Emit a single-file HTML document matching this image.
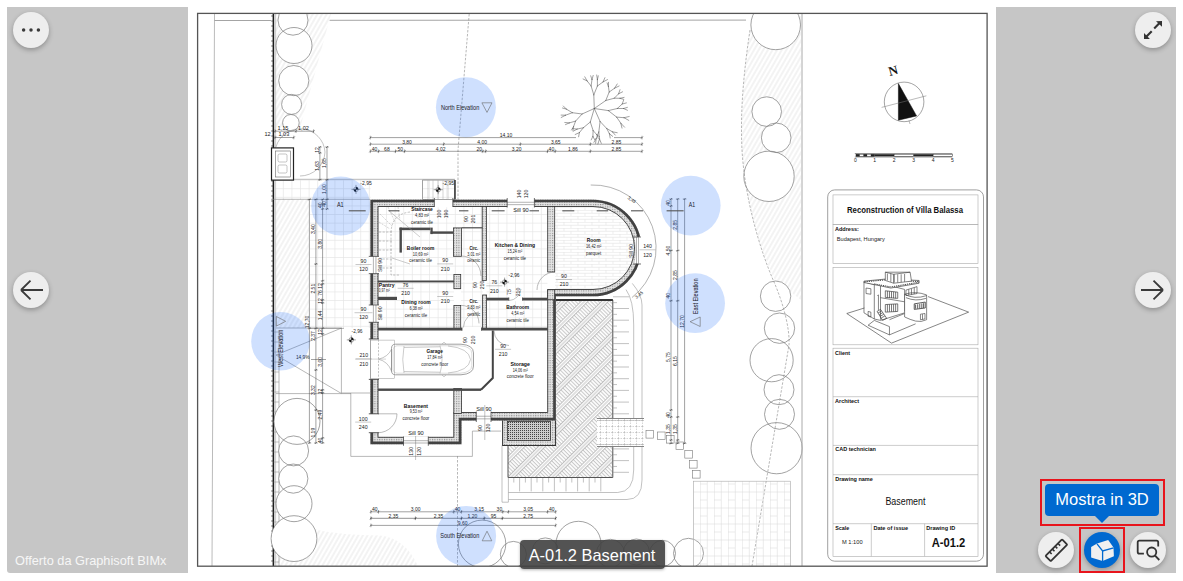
<!DOCTYPE html>
<html><head><meta charset="utf-8"><title>A-01.2 Basement</title>
<style>
html,body{margin:0;padding:0;background:#fff;width:1183px;height:581px;overflow:hidden;font-family:"Liberation Sans",sans-serif;}
#stage{position:relative;width:1183px;height:581px;}
svg.plan{position:absolute;left:0;top:0;}
svg.plan text{font-family:"Liberation Sans",sans-serif;}
.panel{position:absolute;top:7px;height:566px;background:#c6c6c6;}
.btn{position:absolute;width:36px;height:36px;border-radius:50%;background:#eeeeee;box-shadow:0 2px 5px rgba(0,0,0,0.28);}
.btn svg{position:absolute;left:0;top:0;}
.credit{position:absolute;left:15px;top:552.5px;color:#f6f6f6;font-size:12.75px;white-space:nowrap;}
.label{position:absolute;left:519.5px;top:540px;width:145px;height:28.5px;border-radius:4px;background:rgba(64,64,64,0.9);color:#fff;font-size:16.4px;line-height:30px;text-align:center;box-shadow:0 1px 3px rgba(0,0,0,0.3);}
.tip{position:absolute;left:1045px;top:484px;width:114px;height:32px;border-radius:4px;background:#0069d0;color:#fff;font-size:16.5px;line-height:31px;text-align:center;}
.tip:after{content:"";position:absolute;left:50px;top:32px;border-left:7px solid transparent;border-right:7px solid transparent;border-top:7px solid #0069d0;}
.red{position:absolute;border:2.4px solid #e8141c;box-sizing:border-box;}
</style></head><body><div id="stage">
<div class="panel" style="left:7px;width:181px;border-radius:0 0 0 3px"></div>
<div class="panel" style="left:996px;width:180px"></div>
<svg class="plan" width="1183" height="581" viewBox="0 0 1183 581">
<defs>
<clipPath id="frm"><rect x="198" y="14" width="789" height="552"/></clipPath>
<pattern id="stip" width="2.4" height="2.4" patternUnits="userSpaceOnUse"><rect width="2.4" height="2.4" fill="#e4e4e4"/><rect width="1.1" height="1.1" fill="#8a8a8a"/></pattern>
<pattern id="lhatch" width="4" height="3.6" patternUnits="userSpaceOnUse" patternTransform="rotate(30)"><line x1="2" y1="0" x2="2" y2="3.6" stroke="#d9d9d9" stroke-width="0.6"/></pattern>
<pattern id="deck" width="14.5" height="2.7" patternUnits="userSpaceOnUse" patternTransform="rotate(45)"><path d="M0.5 0V2.7M2.9 0V2.7M5.3 0V2.7" stroke="#999" stroke-width="0.6"/><line x1="5.3" y1="0.6" x2="14.5" y2="0.6" stroke="#9a9a9a" stroke-width="0.6"/></pattern>
<pattern id="xst" width="2" height="2" patternUnits="userSpaceOnUse"><rect width="2" height="2" fill="#ccc"/><rect width="1" height="1" fill="#444"/></pattern>
<pattern id="grid" width="8.6" height="8.6" patternUnits="userSpaceOnUse"><path d="M8.2 0V8.6M0 8.2H8.6" fill="none" stroke="#e3e3e3" stroke-width="0.7"/></pattern>
<pattern id="brick" width="14" height="6" patternUnits="userSpaceOnUse"><path d="M0 0.3H14M0 3.3H14M4 0V3.3M11 3.3V6" fill="none" stroke="#e2e2e2" stroke-width="0.6"/></pattern>
<pattern id="pave" width="14" height="16" patternUnits="userSpaceOnUse"><path d="M0.3 0V16M7.3 0V16M0 4H7M7 12H14M0 12H7" fill="none" stroke="#dddddd" stroke-width="0.6"/></pattern>
<pattern id="dgrid" width="6" height="6" patternUnits="userSpaceOnUse"><path d="M0 0.3H6M0.3 0V6" fill="none" stroke="#999" stroke-width="0.5" stroke-dasharray="1.5 1"/></pattern>
</defs>
<rect x="197.5" y="13.5" width="789.5" height="552.5" fill="#fff"/>
<g clip-path="url(#frm)">
<line x1="214.5" y1="14" x2="212" y2="566" stroke="#bbb" stroke-width="1" />
<line x1="214.5" y1="20.5" x2="271" y2="20.5" stroke="#9a9a9a" stroke-width="0.9" />
<line x1="329.6" y1="20.3" x2="746" y2="20.1" stroke="#9a9a9a" stroke-width="0.9" />
<path d="M275.6 14 L331 14 L300 128 L275.6 128 Z" fill="url(#lhatch)" stroke="none" stroke-width="0.8" />
<path d="M276 199.4 L309 199.4 L309 328 L276 328 Z" fill="url(#lhatch)" stroke="none" stroke-width="0.8" />
<path d="M752 16 L801 16 L801 300 L775 280 C760 250 745 200 742 150 C741 100 745 60 752 16 Z" fill="url(#lhatch)" stroke="none" stroke-width="0.8" />
<path d="M276 566 V520 Q300 524 318 530 Q340 535 380 535.5 Q405 538 418 566 Z" fill="url(#lhatch)" stroke="none" stroke-width="0.8" />
<rect x="275.6" y="180" width="95" height="20" fill="url(#grid)" stroke="none" stroke-width="1" />
<rect x="310" y="200" width="60" height="128" fill="url(#grid)" stroke="none" stroke-width="1" />
<line x1="273.4" y1="14" x2="273.4" y2="566" stroke="#1a1a1a" stroke-width="1.6" />
<line x1="275.6" y1="14" x2="275.6" y2="566" stroke="#aaa" stroke-width="0.6" />
<line x1="271.2" y1="16" x2="273.4" y2="16" stroke="#333" stroke-width="0.7" />
<line x1="271.2" y1="21" x2="273.4" y2="21" stroke="#333" stroke-width="0.7" />
<line x1="271.2" y1="26" x2="273.4" y2="26" stroke="#333" stroke-width="0.7" />
<line x1="271.2" y1="31" x2="273.4" y2="31" stroke="#333" stroke-width="0.7" />
<line x1="271.2" y1="36" x2="273.4" y2="36" stroke="#333" stroke-width="0.7" />
<line x1="271.2" y1="41" x2="273.4" y2="41" stroke="#333" stroke-width="0.7" />
<line x1="271.2" y1="46" x2="273.4" y2="46" stroke="#333" stroke-width="0.7" />
<line x1="271.2" y1="51" x2="273.4" y2="51" stroke="#333" stroke-width="0.7" />
<line x1="271.2" y1="56" x2="273.4" y2="56" stroke="#333" stroke-width="0.7" />
<line x1="271.2" y1="61" x2="273.4" y2="61" stroke="#333" stroke-width="0.7" />
<line x1="271.2" y1="66" x2="273.4" y2="66" stroke="#333" stroke-width="0.7" />
<line x1="271.2" y1="71" x2="273.4" y2="71" stroke="#333" stroke-width="0.7" />
<line x1="271.2" y1="76" x2="273.4" y2="76" stroke="#333" stroke-width="0.7" />
<line x1="271.2" y1="81" x2="273.4" y2="81" stroke="#333" stroke-width="0.7" />
<line x1="271.2" y1="86" x2="273.4" y2="86" stroke="#333" stroke-width="0.7" />
<line x1="271.2" y1="91" x2="273.4" y2="91" stroke="#333" stroke-width="0.7" />
<line x1="271.2" y1="96" x2="273.4" y2="96" stroke="#333" stroke-width="0.7" />
<line x1="271.2" y1="101" x2="273.4" y2="101" stroke="#333" stroke-width="0.7" />
<line x1="271.2" y1="106" x2="273.4" y2="106" stroke="#333" stroke-width="0.7" />
<line x1="271.2" y1="111" x2="273.4" y2="111" stroke="#333" stroke-width="0.7" />
<line x1="271.2" y1="116" x2="273.4" y2="116" stroke="#333" stroke-width="0.7" />
<line x1="271.2" y1="121" x2="273.4" y2="121" stroke="#333" stroke-width="0.7" />
<line x1="271.2" y1="126" x2="273.4" y2="126" stroke="#333" stroke-width="0.7" />
<line x1="271.2" y1="131" x2="273.4" y2="131" stroke="#333" stroke-width="0.7" />
<line x1="271.2" y1="136" x2="273.4" y2="136" stroke="#333" stroke-width="0.7" />
<line x1="271.2" y1="141" x2="273.4" y2="141" stroke="#333" stroke-width="0.7" />
<line x1="271.2" y1="146" x2="273.4" y2="146" stroke="#333" stroke-width="0.7" />
<line x1="271.2" y1="151" x2="273.4" y2="151" stroke="#333" stroke-width="0.7" />
<line x1="271.2" y1="156" x2="273.4" y2="156" stroke="#333" stroke-width="0.7" />
<line x1="271.2" y1="161" x2="273.4" y2="161" stroke="#333" stroke-width="0.7" />
<line x1="271.2" y1="166" x2="273.4" y2="166" stroke="#333" stroke-width="0.7" />
<line x1="271.2" y1="171" x2="273.4" y2="171" stroke="#333" stroke-width="0.7" />
<line x1="271.2" y1="176" x2="273.4" y2="176" stroke="#333" stroke-width="0.7" />
<line x1="271.2" y1="181" x2="273.4" y2="181" stroke="#333" stroke-width="0.7" />
<line x1="271.2" y1="186" x2="273.4" y2="186" stroke="#333" stroke-width="0.7" />
<line x1="271.2" y1="191" x2="273.4" y2="191" stroke="#333" stroke-width="0.7" />
<line x1="271.2" y1="196" x2="273.4" y2="196" stroke="#333" stroke-width="0.7" />
<line x1="271.2" y1="201" x2="273.4" y2="201" stroke="#333" stroke-width="0.7" />
<line x1="271.2" y1="206" x2="273.4" y2="206" stroke="#333" stroke-width="0.7" />
<line x1="271.2" y1="211" x2="273.4" y2="211" stroke="#333" stroke-width="0.7" />
<line x1="271.2" y1="216" x2="273.4" y2="216" stroke="#333" stroke-width="0.7" />
<line x1="271.2" y1="221" x2="273.4" y2="221" stroke="#333" stroke-width="0.7" />
<line x1="271.2" y1="226" x2="273.4" y2="226" stroke="#333" stroke-width="0.7" />
<line x1="271.2" y1="231" x2="273.4" y2="231" stroke="#333" stroke-width="0.7" />
<line x1="271.2" y1="236" x2="273.4" y2="236" stroke="#333" stroke-width="0.7" />
<line x1="271.2" y1="241" x2="273.4" y2="241" stroke="#333" stroke-width="0.7" />
<line x1="271.2" y1="246" x2="273.4" y2="246" stroke="#333" stroke-width="0.7" />
<line x1="271.2" y1="251" x2="273.4" y2="251" stroke="#333" stroke-width="0.7" />
<line x1="271.2" y1="256" x2="273.4" y2="256" stroke="#333" stroke-width="0.7" />
<line x1="271.2" y1="261" x2="273.4" y2="261" stroke="#333" stroke-width="0.7" />
<line x1="271.2" y1="266" x2="273.4" y2="266" stroke="#333" stroke-width="0.7" />
<line x1="271.2" y1="271" x2="273.4" y2="271" stroke="#333" stroke-width="0.7" />
<line x1="271.2" y1="276" x2="273.4" y2="276" stroke="#333" stroke-width="0.7" />
<line x1="271.2" y1="281" x2="273.4" y2="281" stroke="#333" stroke-width="0.7" />
<line x1="271.2" y1="286" x2="273.4" y2="286" stroke="#333" stroke-width="0.7" />
<line x1="271.2" y1="291" x2="273.4" y2="291" stroke="#333" stroke-width="0.7" />
<line x1="271.2" y1="296" x2="273.4" y2="296" stroke="#333" stroke-width="0.7" />
<line x1="271.2" y1="301" x2="273.4" y2="301" stroke="#333" stroke-width="0.7" />
<line x1="271.2" y1="306" x2="273.4" y2="306" stroke="#333" stroke-width="0.7" />
<line x1="271.2" y1="311" x2="273.4" y2="311" stroke="#333" stroke-width="0.7" />
<line x1="271.2" y1="316" x2="273.4" y2="316" stroke="#333" stroke-width="0.7" />
<line x1="271.2" y1="321" x2="273.4" y2="321" stroke="#333" stroke-width="0.7" />
<line x1="271.2" y1="326" x2="273.4" y2="326" stroke="#333" stroke-width="0.7" />
<line x1="271.2" y1="331" x2="273.4" y2="331" stroke="#333" stroke-width="0.7" />
<line x1="271.2" y1="336" x2="273.4" y2="336" stroke="#333" stroke-width="0.7" />
<line x1="271.2" y1="341" x2="273.4" y2="341" stroke="#333" stroke-width="0.7" />
<line x1="271.2" y1="346" x2="273.4" y2="346" stroke="#333" stroke-width="0.7" />
<line x1="271.2" y1="351" x2="273.4" y2="351" stroke="#333" stroke-width="0.7" />
<line x1="271.2" y1="356" x2="273.4" y2="356" stroke="#333" stroke-width="0.7" />
<line x1="271.2" y1="361" x2="273.4" y2="361" stroke="#333" stroke-width="0.7" />
<line x1="271.2" y1="366" x2="273.4" y2="366" stroke="#333" stroke-width="0.7" />
<line x1="271.2" y1="371" x2="273.4" y2="371" stroke="#333" stroke-width="0.7" />
<line x1="271.2" y1="376" x2="273.4" y2="376" stroke="#333" stroke-width="0.7" />
<line x1="271.2" y1="381" x2="273.4" y2="381" stroke="#333" stroke-width="0.7" />
<line x1="271.2" y1="386" x2="273.4" y2="386" stroke="#333" stroke-width="0.7" />
<line x1="271.2" y1="391" x2="273.4" y2="391" stroke="#333" stroke-width="0.7" />
<line x1="271.2" y1="396" x2="273.4" y2="396" stroke="#333" stroke-width="0.7" />
<line x1="271.2" y1="401" x2="273.4" y2="401" stroke="#333" stroke-width="0.7" />
<line x1="271.2" y1="406" x2="273.4" y2="406" stroke="#333" stroke-width="0.7" />
<line x1="271.2" y1="411" x2="273.4" y2="411" stroke="#333" stroke-width="0.7" />
<line x1="271.2" y1="416" x2="273.4" y2="416" stroke="#333" stroke-width="0.7" />
<line x1="271.2" y1="421" x2="273.4" y2="421" stroke="#333" stroke-width="0.7" />
<line x1="271.2" y1="426" x2="273.4" y2="426" stroke="#333" stroke-width="0.7" />
<line x1="271.2" y1="431" x2="273.4" y2="431" stroke="#333" stroke-width="0.7" />
<line x1="271.2" y1="436" x2="273.4" y2="436" stroke="#333" stroke-width="0.7" />
<line x1="271.2" y1="441" x2="273.4" y2="441" stroke="#333" stroke-width="0.7" />
<line x1="271.2" y1="446" x2="273.4" y2="446" stroke="#333" stroke-width="0.7" />
<line x1="271.2" y1="451" x2="273.4" y2="451" stroke="#333" stroke-width="0.7" />
<line x1="271.2" y1="456" x2="273.4" y2="456" stroke="#333" stroke-width="0.7" />
<line x1="271.2" y1="461" x2="273.4" y2="461" stroke="#333" stroke-width="0.7" />
<line x1="271.2" y1="466" x2="273.4" y2="466" stroke="#333" stroke-width="0.7" />
<line x1="271.2" y1="471" x2="273.4" y2="471" stroke="#333" stroke-width="0.7" />
<line x1="271.2" y1="476" x2="273.4" y2="476" stroke="#333" stroke-width="0.7" />
<line x1="271.2" y1="481" x2="273.4" y2="481" stroke="#333" stroke-width="0.7" />
<line x1="271.2" y1="486" x2="273.4" y2="486" stroke="#333" stroke-width="0.7" />
<line x1="271.2" y1="491" x2="273.4" y2="491" stroke="#333" stroke-width="0.7" />
<line x1="271.2" y1="496" x2="273.4" y2="496" stroke="#333" stroke-width="0.7" />
<line x1="271.2" y1="501" x2="273.4" y2="501" stroke="#333" stroke-width="0.7" />
<line x1="271.2" y1="506" x2="273.4" y2="506" stroke="#333" stroke-width="0.7" />
<line x1="271.2" y1="511" x2="273.4" y2="511" stroke="#333" stroke-width="0.7" />
<line x1="271.2" y1="516" x2="273.4" y2="516" stroke="#333" stroke-width="0.7" />
<line x1="271.2" y1="521" x2="273.4" y2="521" stroke="#333" stroke-width="0.7" />
<line x1="271.2" y1="526" x2="273.4" y2="526" stroke="#333" stroke-width="0.7" />
<line x1="271.2" y1="531" x2="273.4" y2="531" stroke="#333" stroke-width="0.7" />
<line x1="271.2" y1="536" x2="273.4" y2="536" stroke="#333" stroke-width="0.7" />
<line x1="271.2" y1="541" x2="273.4" y2="541" stroke="#333" stroke-width="0.7" />
<line x1="271.2" y1="546" x2="273.4" y2="546" stroke="#333" stroke-width="0.7" />
<line x1="271.2" y1="551" x2="273.4" y2="551" stroke="#333" stroke-width="0.7" />
<line x1="271.2" y1="556" x2="273.4" y2="556" stroke="#333" stroke-width="0.7" />
<line x1="271.2" y1="561" x2="273.4" y2="561" stroke="#333" stroke-width="0.7" />
<line x1="279" y1="330" x2="279" y2="566" stroke="#888" stroke-width="0.6" />
<line x1="273.4" y1="332" x2="279" y2="332" stroke="#888" stroke-width="0.5" />
<line x1="273.4" y1="342" x2="279" y2="342" stroke="#888" stroke-width="0.5" />
<line x1="273.4" y1="352" x2="279" y2="352" stroke="#888" stroke-width="0.5" />
<line x1="273.4" y1="362" x2="279" y2="362" stroke="#888" stroke-width="0.5" />
<line x1="273.4" y1="372" x2="279" y2="372" stroke="#888" stroke-width="0.5" />
<line x1="273.4" y1="382" x2="279" y2="382" stroke="#888" stroke-width="0.5" />
<line x1="273.4" y1="392" x2="279" y2="392" stroke="#888" stroke-width="0.5" />
<line x1="273.4" y1="402" x2="279" y2="402" stroke="#888" stroke-width="0.5" />
<line x1="273.4" y1="412" x2="279" y2="412" stroke="#888" stroke-width="0.5" />
<line x1="273.4" y1="422" x2="279" y2="422" stroke="#888" stroke-width="0.5" />
<line x1="273.4" y1="432" x2="279" y2="432" stroke="#888" stroke-width="0.5" />
<line x1="273.4" y1="442" x2="279" y2="442" stroke="#888" stroke-width="0.5" />
<line x1="273.4" y1="452" x2="279" y2="452" stroke="#888" stroke-width="0.5" />
<line x1="273.4" y1="462" x2="279" y2="462" stroke="#888" stroke-width="0.5" />
<line x1="273.4" y1="472" x2="279" y2="472" stroke="#888" stroke-width="0.5" />
<line x1="273.4" y1="482" x2="279" y2="482" stroke="#888" stroke-width="0.5" />
<line x1="273.4" y1="492" x2="279" y2="492" stroke="#888" stroke-width="0.5" />
<line x1="273.4" y1="502" x2="279" y2="502" stroke="#888" stroke-width="0.5" />
<line x1="273.4" y1="512" x2="279" y2="512" stroke="#888" stroke-width="0.5" />
<line x1="273.4" y1="522" x2="279" y2="522" stroke="#888" stroke-width="0.5" />
<line x1="273.4" y1="532" x2="279" y2="532" stroke="#888" stroke-width="0.5" />
<line x1="273.4" y1="542" x2="279" y2="542" stroke="#888" stroke-width="0.5" />
<line x1="273.4" y1="552" x2="279" y2="552" stroke="#888" stroke-width="0.5" />
<line x1="273.4" y1="562" x2="279" y2="562" stroke="#888" stroke-width="0.5" />
<circle cx="293" cy="20.2" r="15" fill="#fff" stroke="none" stroke-width="0.7" />
<circle cx="294" cy="45.5" r="18" fill="#fff" stroke="none" stroke-width="0.7" />
<circle cx="293.8" cy="80.6" r="15.1" fill="#fff" stroke="none" stroke-width="0.7" />
<circle cx="291.6" cy="104.4" r="10" fill="#fff" stroke="none" stroke-width="0.7" />
<circle cx="290.9" cy="122.8" r="8.3" fill="#fff" stroke="none" stroke-width="0.7" />
<circle cx="297" cy="421.4" r="23" fill="#fff" stroke="none" stroke-width="0.7" />
<circle cx="293.6" cy="450.9" r="15" fill="#fff" stroke="none" stroke-width="0.7" />
<circle cx="293.3" cy="478.6" r="14.6" fill="#fff" stroke="none" stroke-width="0.7" />
<circle cx="294" cy="503.7" r="18" fill="#fff" stroke="none" stroke-width="0.7" />
<circle cx="294" cy="538.6" r="22.9" fill="#fff" stroke="none" stroke-width="0.7" />
<circle cx="775.7" cy="24.9" r="24.8" fill="#fff" stroke="none" stroke-width="0.7" />
<circle cx="766.7" cy="111.6" r="14.8" fill="#fff" stroke="none" stroke-width="0.7" />
<circle cx="776.2" cy="137.8" r="14.8" fill="#fff" stroke="none" stroke-width="0.7" />
<circle cx="769" cy="176.3" r="25.2" fill="#fff" stroke="none" stroke-width="0.7" />
<circle cx="775.6" cy="296.2" r="15.2" fill="#fff" stroke="none" stroke-width="0.7" />
<circle cx="779.5" cy="328.2" r="15.2" fill="#fff" stroke="none" stroke-width="0.7" />
<circle cx="771.6" cy="360.2" r="21.6" fill="#fff" stroke="none" stroke-width="0.7" />
<circle cx="779" cy="389.7" r="15" fill="#fff" stroke="none" stroke-width="0.7" />
<circle cx="779.5" cy="414.3" r="15" fill="#fff" stroke="none" stroke-width="0.7" />
<circle cx="776.6" cy="448.2" r="25.6" fill="#fff" stroke="none" stroke-width="0.7" />
<circle cx="482.1" cy="543.8" r="23.7" fill="#fff" stroke="none" stroke-width="0.7" />
<circle cx="513.4" cy="554.4" r="13" fill="#fff" stroke="none" stroke-width="0.7" />
<circle cx="545.3" cy="550.9" r="13" fill="#fff" stroke="none" stroke-width="0.7" />
<circle cx="578.5" cy="543.8" r="22.5" fill="#fff" stroke="none" stroke-width="0.7" />
<circle cx="610.4" cy="553.3" r="14" fill="#fff" stroke="none" stroke-width="0.7" />
<circle cx="636.4" cy="552" r="13" fill="#fff" stroke="none" stroke-width="0.7" />
<circle cx="662.5" cy="553.3" r="13" fill="#fff" stroke="none" stroke-width="0.7" />
<circle cx="688.5" cy="553.3" r="15" fill="#fff" stroke="none" stroke-width="0.7" />
<circle cx="293" cy="20.2" r="15" fill="none" stroke="#7a7a7a" stroke-width="0.7" />
<circle cx="294" cy="45.5" r="18" fill="none" stroke="#7a7a7a" stroke-width="0.7" />
<circle cx="293.8" cy="80.6" r="15.1" fill="none" stroke="#7a7a7a" stroke-width="0.7" />
<circle cx="291.6" cy="104.4" r="10" fill="none" stroke="#7a7a7a" stroke-width="0.7" />
<circle cx="290.9" cy="122.8" r="8.3" fill="none" stroke="#7a7a7a" stroke-width="0.7" />
<circle cx="297" cy="421.4" r="23" fill="none" stroke="#7a7a7a" stroke-width="0.7" />
<circle cx="293.6" cy="450.9" r="15" fill="none" stroke="#7a7a7a" stroke-width="0.7" />
<circle cx="293.3" cy="478.6" r="14.6" fill="none" stroke="#7a7a7a" stroke-width="0.7" />
<circle cx="294" cy="503.7" r="18" fill="none" stroke="#7a7a7a" stroke-width="0.7" />
<circle cx="294" cy="538.6" r="22.9" fill="none" stroke="#7a7a7a" stroke-width="0.7" />
<circle cx="775.7" cy="24.9" r="24.8" fill="none" stroke="#7a7a7a" stroke-width="0.7" />
<circle cx="766.7" cy="111.6" r="14.8" fill="none" stroke="#7a7a7a" stroke-width="0.7" />
<circle cx="776.2" cy="137.8" r="14.8" fill="none" stroke="#7a7a7a" stroke-width="0.7" />
<circle cx="769" cy="176.3" r="25.2" fill="none" stroke="#7a7a7a" stroke-width="0.7" />
<circle cx="775.6" cy="296.2" r="15.2" fill="none" stroke="#7a7a7a" stroke-width="0.7" />
<circle cx="779.5" cy="328.2" r="15.2" fill="none" stroke="#7a7a7a" stroke-width="0.7" />
<circle cx="771.6" cy="360.2" r="21.6" fill="none" stroke="#7a7a7a" stroke-width="0.7" />
<circle cx="779" cy="389.7" r="15" fill="none" stroke="#7a7a7a" stroke-width="0.7" />
<circle cx="779.5" cy="414.3" r="15" fill="none" stroke="#7a7a7a" stroke-width="0.7" />
<circle cx="776.6" cy="448.2" r="25.6" fill="none" stroke="#7a7a7a" stroke-width="0.7" />
<circle cx="482.1" cy="543.8" r="23.7" fill="none" stroke="#7a7a7a" stroke-width="0.7" />
<circle cx="513.4" cy="554.4" r="13" fill="none" stroke="#7a7a7a" stroke-width="0.7" />
<circle cx="545.3" cy="550.9" r="13" fill="none" stroke="#7a7a7a" stroke-width="0.7" />
<circle cx="578.5" cy="543.8" r="22.5" fill="none" stroke="#7a7a7a" stroke-width="0.7" />
<circle cx="610.4" cy="553.3" r="14" fill="none" stroke="#7a7a7a" stroke-width="0.7" />
<circle cx="636.4" cy="552" r="13" fill="none" stroke="#7a7a7a" stroke-width="0.7" />
<circle cx="662.5" cy="553.3" r="13" fill="none" stroke="#7a7a7a" stroke-width="0.7" />
<circle cx="688.5" cy="553.3" r="15" fill="none" stroke="#7a7a7a" stroke-width="0.7" />
<path d="M469.2 14 L458 150 L458 200" fill="none" stroke="#888" stroke-width="0.6" stroke-dasharray="2.5 1.5"/>
<path d="M457.5 456 L457.5 566" fill="none" stroke="#888" stroke-width="0.6" stroke-dasharray="2.5 1.5"/>
<path d="M750 30 C744 70 740 110 742 150 C745 200 760 250 774 282 C784 305 790 330 789 345 L752 566" fill="none" stroke="#888" stroke-width="0.6" stroke-dasharray="2.5 1.5"/>
<line x1="802" y1="14" x2="802" y2="566" stroke="#aaa" stroke-width="1" />
<rect x="378" y="206.5" width="104" height="74" fill="url(#grid)" stroke="none" stroke-width="1" />
<rect x="486.5" y="206.5" width="61" height="92" fill="url(#grid)" stroke="none" stroke-width="1" />
<rect x="378" y="282" width="76" height="46" fill="url(#grid)" stroke="none" stroke-width="1" />
<rect x="461" y="282" width="22" height="46" fill="url(#grid)" stroke="none" stroke-width="1" />
<rect x="486.5" y="300.5" width="61" height="28" fill="url(#grid)" stroke="none" stroke-width="1" />
<path d="M555 206.5 H593 A41.5 41.5 0 0 1 593 289.5 H555 Z" fill="url(#brick)" stroke="none" stroke-width="0.8" />
<path d="M555.5 300 H612.8 V477.5 H508 V445.5 H555.5 Z" fill="url(#deck)" stroke="#555" stroke-width="1" />
<line x1="552.5" y1="300" x2="612.8" y2="300" stroke="#333" stroke-width="2" />
<line x1="613" y1="296.8" x2="629" y2="296.8" stroke="#999" stroke-width="0.6" />
<line x1="613" y1="302.65" x2="617" y2="302.65" stroke="#999" stroke-width="0.6" />
<line x1="613" y1="308.5" x2="629" y2="308.5" stroke="#999" stroke-width="0.6" />
<line x1="613" y1="314.35" x2="617" y2="314.35" stroke="#999" stroke-width="0.6" />
<line x1="613" y1="320.2" x2="629" y2="320.2" stroke="#999" stroke-width="0.6" />
<line x1="613" y1="326.05" x2="617" y2="326.05" stroke="#999" stroke-width="0.6" />
<line x1="613" y1="331.9" x2="629" y2="331.9" stroke="#999" stroke-width="0.6" />
<line x1="613" y1="337.75" x2="617" y2="337.75" stroke="#999" stroke-width="0.6" />
<line x1="613" y1="343.6" x2="629" y2="343.6" stroke="#999" stroke-width="0.6" />
<line x1="613" y1="349.45" x2="617" y2="349.45" stroke="#999" stroke-width="0.6" />
<line x1="613" y1="355.3" x2="629" y2="355.3" stroke="#999" stroke-width="0.6" />
<line x1="613" y1="361.15" x2="617" y2="361.15" stroke="#999" stroke-width="0.6" />
<line x1="613" y1="367" x2="629" y2="367" stroke="#999" stroke-width="0.6" />
<line x1="613" y1="372.85" x2="617" y2="372.85" stroke="#999" stroke-width="0.6" />
<line x1="613" y1="378.7" x2="629" y2="378.7" stroke="#999" stroke-width="0.6" />
<line x1="613" y1="384.55" x2="617" y2="384.55" stroke="#999" stroke-width="0.6" />
<line x1="613" y1="390.4" x2="629" y2="390.4" stroke="#999" stroke-width="0.6" />
<line x1="613" y1="396.25" x2="617" y2="396.25" stroke="#999" stroke-width="0.6" />
<line x1="613" y1="402.1" x2="629" y2="402.1" stroke="#999" stroke-width="0.6" />
<line x1="613" y1="407.95" x2="617" y2="407.95" stroke="#999" stroke-width="0.6" />
<line x1="613" y1="413.8" x2="629" y2="413.8" stroke="#999" stroke-width="0.6" />
<line x1="613" y1="419.65" x2="617" y2="419.65" stroke="#999" stroke-width="0.6" />
<line x1="613" y1="425.5" x2="629" y2="425.5" stroke="#999" stroke-width="0.6" />
<line x1="613" y1="431.35" x2="617" y2="431.35" stroke="#999" stroke-width="0.6" />
<line x1="613" y1="437.2" x2="629" y2="437.2" stroke="#999" stroke-width="0.6" />
<line x1="613" y1="443.05" x2="617" y2="443.05" stroke="#999" stroke-width="0.6" />
<line x1="613" y1="448.9" x2="629" y2="448.9" stroke="#999" stroke-width="0.6" />
<line x1="613" y1="454.75" x2="617" y2="454.75" stroke="#999" stroke-width="0.6" />
<line x1="613" y1="460.6" x2="629" y2="460.6" stroke="#999" stroke-width="0.6" />
<line x1="613" y1="466.45" x2="617" y2="466.45" stroke="#999" stroke-width="0.6" />
<line x1="613" y1="472.3" x2="629" y2="472.3" stroke="#999" stroke-width="0.6" />
<line x1="513.8" y1="478" x2="513.8" y2="482.5" stroke="#999" stroke-width="0.6" />
<line x1="519.6" y1="478" x2="519.6" y2="491.4" stroke="#999" stroke-width="0.6" />
<line x1="525.4" y1="478" x2="525.4" y2="482.5" stroke="#999" stroke-width="0.6" />
<line x1="531.2" y1="478" x2="531.2" y2="491.4" stroke="#999" stroke-width="0.6" />
<line x1="537" y1="478" x2="537" y2="482.5" stroke="#999" stroke-width="0.6" />
<line x1="542.8" y1="478" x2="542.8" y2="491.4" stroke="#999" stroke-width="0.6" />
<line x1="548.6" y1="478" x2="548.6" y2="482.5" stroke="#999" stroke-width="0.6" />
<line x1="554.4" y1="478" x2="554.4" y2="491.4" stroke="#999" stroke-width="0.6" />
<line x1="560.2" y1="478" x2="560.2" y2="482.5" stroke="#999" stroke-width="0.6" />
<line x1="566" y1="478" x2="566" y2="491.4" stroke="#999" stroke-width="0.6" />
<line x1="571.8" y1="478" x2="571.8" y2="482.5" stroke="#999" stroke-width="0.6" />
<line x1="577.6" y1="478" x2="577.6" y2="491.4" stroke="#999" stroke-width="0.6" />
<line x1="583.4" y1="478" x2="583.4" y2="482.5" stroke="#999" stroke-width="0.6" />
<line x1="589.2" y1="478" x2="589.2" y2="491.4" stroke="#999" stroke-width="0.6" />
<line x1="595" y1="478" x2="595" y2="482.5" stroke="#999" stroke-width="0.6" />
<line x1="600.8" y1="478" x2="600.8" y2="491.4" stroke="#999" stroke-width="0.6" />
<path d="M626 289.6 Q633.7 300 633.7 325 V470 Q633.7 492 617.7 492.5 H508.4" fill="none" stroke="#999" stroke-width="0.6" />
<path d="M632.3 283.4 Q642 295 642 305 V480 Q642 499.5 627 499.5 H508.4" fill="none" stroke="#999" stroke-width="0.6" />
<line x1="502" y1="445.5" x2="502" y2="502.2" stroke="#999" stroke-width="0.6" />
<line x1="508.4" y1="477.5" x2="508.4" y2="502.2" stroke="#999" stroke-width="0.6" />
<line x1="502" y1="502.2" x2="508.4" y2="502.2" stroke="#999" stroke-width="0.6" />
<rect x="597" y="418.5" width="47" height="28" fill="#fff" stroke="none" stroke-width="1" />
<rect x="597" y="418.5" width="47" height="28" fill="url(#dgrid)" stroke="none" stroke-width="1" />
<line x1="597" y1="418.5" x2="644" y2="418.5" stroke="#777" stroke-width="0.9" />
<line x1="597" y1="446.5" x2="644" y2="446.5" stroke="#777" stroke-width="0.9" />
<line x1="597" y1="420.5" x2="644" y2="420.5" stroke="#aaa" stroke-width="0.5" />
<line x1="597" y1="444.5" x2="644" y2="444.5" stroke="#aaa" stroke-width="0.5" />
<rect x="646" y="430.5" width="7.6" height="7.6" fill="#fff" stroke="#777" stroke-width="0.6" />
<rect x="657.5" y="432" width="7.6" height="7.6" fill="#fff" stroke="#777" stroke-width="0.6" />
<rect x="666.5" y="435.5" width="7.6" height="7.6" fill="#fff" stroke="#777" stroke-width="0.6" />
<rect x="676" y="442" width="7.6" height="7.6" fill="#fff" stroke="#777" stroke-width="0.6" />
<rect x="684.8" y="450.5" width="7.6" height="7.6" fill="#fff" stroke="#777" stroke-width="0.6" />
<rect x="689.5" y="460.5" width="7.6" height="7.6" fill="#fff" stroke="#777" stroke-width="0.6" />
<rect x="692.5" y="470.5" width="7.6" height="7.6" fill="#fff" stroke="#777" stroke-width="0.6" />
<rect x="693.6" y="481.2" width="96.8" height="86" fill="url(#pave)" stroke="#aaa" stroke-width="0.6" />
<rect x="502.6" y="419" width="53" height="26.5" fill="url(#stip)" stroke="#333" stroke-width="1" />
<rect x="507.5" y="421.5" width="43" height="19" fill="url(#xst)" stroke="#333" stroke-width="0.8" />
<path d="M370.3 199.5 H593 A48.5 48.5 0 0 1 593 296.5 H556 V420.6 H461.6 V444.3 H370.3 Z M378 206.5 H593 A41.5 41.5 0 0 1 593 289.5 H547.7 V412.5 H453.8 V437.3 H378 Z" fill="url(#stip)" fill-rule="evenodd" stroke="none"/>
<path d="M371.8 201 H593 A47 47 0 0 1 593 295 H554.5 V419.1 H460.1 V442.8 H371.8 Z" fill="none" stroke="#424242" stroke-width="2.7"/>
<path d="M378 206.5 H593 A41.5 41.5 0 0 1 593 289.5 H547.7 V412.5 H453.8 V437.3 H378 Z" fill="none" stroke="#333" stroke-width="0.9"/>
<rect x="547.7" y="206.5" width="7" height="65.5" fill="url(#stip)" stroke="#333" stroke-width="0.8" />
<rect x="547.7" y="289.7" width="7" height="10" fill="url(#stip)" stroke="#333" stroke-width="0.8" />
<rect x="482.2" y="206.5" width="4.3" height="74" fill="url(#stip)" stroke="#333" stroke-width="0.8" />
<rect x="453.4" y="227.9" width="8" height="28.4" fill="url(#stip)" stroke="#333" stroke-width="0.8" />
<rect x="453.9" y="274.4" width="6.8" height="14.3" fill="url(#stip)" stroke="#333" stroke-width="0.8" />
<rect x="453.9" y="305.4" width="6.8" height="24" fill="url(#stip)" stroke="#333" stroke-width="0.8" />
<rect x="482.6" y="295" width="4" height="34.5" fill="url(#stip)" stroke="#333" stroke-width="0.8" />
<rect x="453.8" y="388.5" width="7.8" height="25" fill="url(#stip)" stroke="#333" stroke-width="0.8" />
<rect x="378" y="280.5" width="76" height="1.9" fill="#4a4a4a" stroke="none" stroke-width="1" />
<rect x="378" y="296.8" width="19" height="3.2" fill="#4a4a4a" stroke="none" stroke-width="1" />
<rect x="486" y="297.7" width="62" height="2.8" fill="#4a4a4a" stroke="none" stroke-width="1" />
<rect x="378" y="327.7" width="170" height="2.8" fill="#4a4a4a" stroke="none" stroke-width="1" />
<rect x="378" y="388.5" width="103" height="2.4" fill="#4a4a4a" stroke="none" stroke-width="1" />
<rect x="399.5" y="227.6" width="31" height="2.6" fill="#4a4a4a" stroke="none" stroke-width="1" />
<rect x="430.5" y="227.6" width="2.2" height="6.5" fill="#4a4a4a" stroke="none" stroke-width="1" />
<rect x="430.5" y="231.4" width="22.5" height="2.4" fill="#4a4a4a" stroke="none" stroke-width="1" />
<rect x="399.5" y="227.6" width="2.4" height="25" fill="#4a4a4a" stroke="none" stroke-width="1" />
<rect x="461.5" y="227.2" width="21" height="1.2" fill="#4a4a4a" stroke="none" stroke-width="1" />
<path d="M481 389.7 L492.8 378 V330.5" fill="none" stroke="#444" stroke-width="2" />
<rect x="508.8" y="297" width="13.7" height="4.2" fill="#fff" stroke="none" stroke-width="1" />
<line x1="508.8" y1="297.5" x2="508.8" y2="300.6" stroke="#444" stroke-width="0.8" />
<line x1="522.5" y1="297.5" x2="522.5" y2="300.6" stroke="#444" stroke-width="0.8" />
<rect x="462" y="327" width="19.5" height="4.4" fill="#fff" stroke="none" stroke-width="1" />
<line x1="462" y1="327.5" x2="462" y2="330.7" stroke="#444" stroke-width="0.8" />
<line x1="481.5" y1="327.5" x2="481.5" y2="330.7" stroke="#444" stroke-width="0.8" />
<path d="M463.4 327.5 A16 16 0 0 1 479 312" fill="none" stroke="#888" stroke-width="0.5" />
<path d="M509 300.6 A13 13 0 0 0 521 289" fill="none" stroke="#888" stroke-width="0.5" />
<rect x="507.2" y="198" width="27.2" height="9.5" fill="#fff" stroke="none" stroke-width="1" />
<line x1="507.2" y1="202.28" x2="534.4" y2="202.28" stroke="#666" stroke-width="0.5" />
<line x1="507.2" y1="204.65" x2="534.4" y2="204.65" stroke="#666" stroke-width="0.5" />
<line x1="507.2" y1="198" x2="507.2" y2="207.5" stroke="#333" stroke-width="0.7" />
<line x1="534.4" y1="198" x2="534.4" y2="207.5" stroke="#333" stroke-width="0.7" />
<rect x="403.5" y="436.5" width="24.8" height="9.3" fill="#fff" stroke="none" stroke-width="1" />
<line x1="403.5" y1="440.69" x2="428.3" y2="440.69" stroke="#666" stroke-width="0.5" />
<line x1="403.5" y1="443.01" x2="428.3" y2="443.01" stroke="#666" stroke-width="0.5" />
<line x1="403.5" y1="436.5" x2="403.5" y2="445.8" stroke="#333" stroke-width="0.7" />
<line x1="428.3" y1="436.5" x2="428.3" y2="445.8" stroke="#333" stroke-width="0.7" />
<rect x="476.3" y="411.5" width="14.7" height="10.5" fill="#fff" stroke="none" stroke-width="1" />
<line x1="476.3" y1="416.23" x2="491" y2="416.23" stroke="#666" stroke-width="0.5" />
<line x1="476.3" y1="418.85" x2="491" y2="418.85" stroke="#666" stroke-width="0.5" />
<line x1="476.3" y1="411.5" x2="476.3" y2="422" stroke="#333" stroke-width="0.7" />
<line x1="491" y1="411.5" x2="491" y2="422" stroke="#333" stroke-width="0.7" />
<rect x="368.8" y="256.4" width="10.2" height="17.2" fill="#fff" stroke="none" stroke-width="1" />
<line x1="373.39" y1="256.4" x2="373.39" y2="273.6" stroke="#666" stroke-width="0.5" />
<line x1="375.94" y1="256.4" x2="375.94" y2="273.6" stroke="#666" stroke-width="0.5" />
<line x1="368.8" y1="256.4" x2="379" y2="256.4" stroke="#333" stroke-width="0.7" />
<line x1="368.8" y1="273.6" x2="379" y2="273.6" stroke="#333" stroke-width="0.7" />
<rect x="368.8" y="305" width="10.2" height="17.3" fill="#fff" stroke="none" stroke-width="1" />
<line x1="373.39" y1="305" x2="373.39" y2="322.3" stroke="#666" stroke-width="0.5" />
<line x1="375.94" y1="305" x2="375.94" y2="322.3" stroke="#666" stroke-width="0.5" />
<line x1="368.8" y1="305" x2="379" y2="305" stroke="#333" stroke-width="0.7" />
<line x1="368.8" y1="322.3" x2="379" y2="322.3" stroke="#333" stroke-width="0.7" />
<rect x="434.3" y="197.8" width="18.6" height="9.5" fill="#fff" stroke="none" stroke-width="1" />
<line x1="434.3" y1="198" x2="434.3" y2="207" stroke="#333" stroke-width="0.8" />
<line x1="452.9" y1="198" x2="452.9" y2="207" stroke="#333" stroke-width="0.8" />
<rect x="368.5" y="339" width="10.5" height="40.4" fill="#fff" stroke="none" stroke-width="1" />
<line x1="368.8" y1="339" x2="379" y2="339" stroke="#333" stroke-width="0.8" />
<line x1="368.8" y1="379.4" x2="379" y2="379.4" stroke="#333" stroke-width="0.8" />
<rect x="368.5" y="413.8" width="10.5" height="18.9" fill="#fff" stroke="none" stroke-width="1" />
<line x1="368.8" y1="413.8" x2="379" y2="413.8" stroke="#333" stroke-width="0.8" />
<line x1="368.8" y1="432.7" x2="379" y2="432.7" stroke="#333" stroke-width="0.8" />
<path d="M378 432.7 A19 19 0 0 0 397 413.8" fill="none" stroke="#777" stroke-width="0.5" />
<line x1="378" y1="413.8" x2="397" y2="413.8" stroke="#777" stroke-width="0.5" />
<path d="M555 272 A18 18 0 0 0 537 290" fill="none" stroke="#777" stroke-width="0.5" />
<path d="M461 256 A20 20 0 0 1 481 276" fill="none" stroke="#777" stroke-width="0.5" />
<path d="M494 330.5 A15 15 0 0 0 509 345.5" fill="none" stroke="#777" stroke-width="0.5" />
<path d="M461 305.4 A18 18 0 0 1 479 323.4" fill="none" stroke="#777" stroke-width="0.5" />
<path d="M638.3 237 A48.5 48.5 0 0 1 638.3 264" stroke="#fff" stroke-width="8" fill="none"/>
<line x1="633" y1="237" x2="641" y2="237" stroke="#333" stroke-width="0.7" />
<line x1="633" y1="264" x2="641" y2="264" stroke="#333" stroke-width="0.7" />
<line x1="636.5" y1="237" x2="636.5" y2="264" stroke="#666" stroke-width="0.5" />
<line x1="638.5" y1="237" x2="638.5" y2="264" stroke="#666" stroke-width="0.5" />
<line x1="379" y1="232" x2="393" y2="232" stroke="#999" stroke-width="0.6" stroke-dasharray="2.2 1.4"/>
<line x1="379" y1="241" x2="393" y2="241" stroke="#999" stroke-width="0.6" stroke-dasharray="2.2 1.4"/>
<line x1="379" y1="250" x2="393" y2="250" stroke="#999" stroke-width="0.6" stroke-dasharray="2.2 1.4"/>
<line x1="379" y1="259" x2="393" y2="259" stroke="#999" stroke-width="0.6" stroke-dasharray="2.2 1.4"/>
<line x1="379" y1="268" x2="393" y2="268" stroke="#999" stroke-width="0.6" stroke-dasharray="2.2 1.4"/>
<path d="M410 212 Q392 214 391 232 L391 275 L400 275" fill="none" stroke="#999" stroke-width="0.6" stroke-dasharray="2.2 1.4"/>
<path d="M380 214 L392 226 M388 207 L395 222 M398 207 L400 220 M379 222 L390 229" fill="none" stroke="#aaa" stroke-width="0.5" stroke-dasharray="2 1.2"/>
<path d="M388 210 L420 237 M392 258 L410 264" fill="none" stroke="#999" stroke-width="0.5" />
<rect x="422.7" y="180" width="31.6" height="19.5" fill="url(#grid)" stroke="#666" stroke-width="0.6" />
<line x1="428" y1="180" x2="428" y2="199" stroke="#aaa" stroke-width="0.5" />
<line x1="433" y1="180" x2="433" y2="199" stroke="#aaa" stroke-width="0.5" />
<line x1="438" y1="180" x2="438" y2="199" stroke="#aaa" stroke-width="0.5" />
<line x1="443" y1="180" x2="443" y2="199" stroke="#aaa" stroke-width="0.5" />
<line x1="448" y1="180" x2="448" y2="199" stroke="#aaa" stroke-width="0.5" />
<line x1="455" y1="180" x2="455" y2="199.5" stroke="#333" stroke-width="1.5" />
<line x1="293" y1="179.3" x2="455" y2="179.3" stroke="#888" stroke-width="0.6" />
<line x1="271" y1="199.3" x2="370" y2="199.3" stroke="#888" stroke-width="0.6" />
<path d="M395.5 344.2 H461 Q473.5 345 473.5 353 V366 Q473.5 374 461 374.8 H395.5 Q391.5 374.8 391.5 370.5 V348.5 Q391.5 344.2 395.5 344.2 Z" fill="none" stroke="#777" stroke-width="0.7" />
<path d="M397 345.8 H460 Q471.8 346.5 471.8 353.5 V365.5 Q471.8 372.5 460 373.2 H397 Q393.2 373.2 393.2 369.5 V349.5 Q393.2 345.8 397 345.8 Z" fill="none" stroke="#aaa" stroke-width="0.4" />
<path d="M404 346 Q401.5 359.5 404 373 M440 345.5 Q444 359.5 440 373.5 M404 347.5 L440 346.8 M404 371.5 L440 372.2 M448 346 Q469 348 470.5 359.5 Q469 371 448 373 M442 344 l2 -1.8 l2 1.8 M442 375 l2 1.8 l2 -1.8" fill="none" stroke="#999" stroke-width="0.5" />
<line x1="370.5" y1="339" x2="370.5" y2="379.4" stroke="#777" stroke-width="0.6" />
<line x1="378.5" y1="339.5" x2="378.5" y2="379" stroke="#888" stroke-width="0.5" stroke-dasharray="2.2 1.3"/>
<rect x="370.5" y="340.1" width="24.2" height="38.2" fill="none" stroke="#999" stroke-width="0.5" />
<path d="M378.5 359.2 Q388 357 391.6 349.1 M378.5 359.2 Q388 361.5 391.6 371.3 M391.6 349.1 V371.3" fill="none" stroke="#888" stroke-width="0.5" />
<line x1="355" y1="359.1" x2="386" y2="359.1" stroke="#aaa" stroke-width="0.5" />
<path d="M350.8 393.2 V456.4 H472.4 V431.1 H501" fill="none" stroke="#888" stroke-width="0.6" />
<path d="M341.4 328 V393 H370" fill="none" stroke="#888" stroke-width="0.6" />
<path d="M276 328 H341.6 M276 355 L341.6 328 M276 355 L341.6 393.6 M276 393.6 H351" fill="none" stroke="#888" stroke-width="0.6" />
<text x="422" y="211.4" font-size="5.4" fill="#111" text-anchor="middle" font-weight="bold" textLength="21.7" lengthAdjust="spacingAndGlyphs" >Staircase</text>
<text x="422" y="217.4" font-size="4.6" fill="#222" text-anchor="middle" textLength="14" lengthAdjust="spacingAndGlyphs" >4,83 m²</text>
<text x="422" y="224" font-size="4.6" fill="#222" text-anchor="middle" textLength="22" lengthAdjust="spacingAndGlyphs" >ceramic tile</text>
<text x="420.6" y="249.5" font-size="5.4" fill="#111" text-anchor="middle" font-weight="bold" textLength="27.5" lengthAdjust="spacingAndGlyphs" >Boiler room</text>
<text x="420.6" y="255.5" font-size="4.6" fill="#222" text-anchor="middle" textLength="15.5" lengthAdjust="spacingAndGlyphs" >10,69 m²</text>
<text x="420.6" y="262.1" font-size="4.6" fill="#222" text-anchor="middle" textLength="22.9" lengthAdjust="spacingAndGlyphs" >ceramic tile</text>
<text x="473.7" y="249.5" font-size="5.4" fill="#111" text-anchor="middle" font-weight="bold" textLength="8.5" lengthAdjust="spacingAndGlyphs" >Circ.</text>
<text x="473.7" y="255.5" font-size="4.6" fill="#222" text-anchor="middle" textLength="13" lengthAdjust="spacingAndGlyphs" >3,01 m²</text>
<text x="473.7" y="262.1" font-size="4.6" fill="#222" text-anchor="middle" textLength="13" lengthAdjust="spacingAndGlyphs" >ceramic</text>
<text x="514.9" y="247.3" font-size="5.4" fill="#111" text-anchor="middle" font-weight="bold" textLength="40.3" lengthAdjust="spacingAndGlyphs" >Kitchen &amp; Dining</text>
<text x="514.9" y="253.3" font-size="4.6" fill="#222" text-anchor="middle" textLength="14.6" lengthAdjust="spacingAndGlyphs" >15,24 m²</text>
<text x="514.9" y="259.9" font-size="4.6" fill="#222" text-anchor="middle" textLength="22.4" lengthAdjust="spacingAndGlyphs" >ceramic tile</text>
<text x="593.7" y="242.2" font-size="5.4" fill="#111" text-anchor="middle" font-weight="bold" textLength="13.9" lengthAdjust="spacingAndGlyphs" >Room</text>
<text x="593.7" y="248.2" font-size="4.6" fill="#222" text-anchor="middle" textLength="15.5" lengthAdjust="spacingAndGlyphs" >16,42 m²</text>
<text x="593.7" y="254.8" font-size="4.6" fill="#222" text-anchor="middle" textLength="15.2" lengthAdjust="spacingAndGlyphs" >parquet</text>
<text x="378.8" y="286.8" font-size="5.4" fill="#111" font-weight="bold" textLength="15.8" lengthAdjust="spacingAndGlyphs" >Pantry</text>
<text x="378.8" y="292.2" font-size="4.6" fill="#222" textLength="11" lengthAdjust="spacingAndGlyphs" >0,97 m²</text>
<text x="416" y="304" font-size="5.4" fill="#111" text-anchor="middle" font-weight="bold" textLength="29.3" lengthAdjust="spacingAndGlyphs" >Dining room</text>
<text x="416" y="310" font-size="4.6" fill="#222" text-anchor="middle" textLength="13" lengthAdjust="spacingAndGlyphs" >6,38 m²</text>
<text x="416" y="316.6" font-size="4.6" fill="#222" text-anchor="middle" textLength="22.5" lengthAdjust="spacingAndGlyphs" >ceramic tile</text>
<text x="473.7" y="302.9" font-size="5.4" fill="#111" text-anchor="middle" font-weight="bold" textLength="8.5" lengthAdjust="spacingAndGlyphs" >Circ.</text>
<text x="473.7" y="308.9" font-size="4.6" fill="#222" text-anchor="middle" textLength="13" lengthAdjust="spacingAndGlyphs" >2,83 m²</text>
<text x="473.7" y="315.5" font-size="4.6" fill="#222" text-anchor="middle" textLength="13" lengthAdjust="spacingAndGlyphs" >ceramic</text>
<text x="517.7" y="309.1" font-size="5.4" fill="#111" text-anchor="middle" font-weight="bold" textLength="23" lengthAdjust="spacingAndGlyphs" >Bathroom</text>
<text x="517.7" y="314.6" font-size="4.6" fill="#222" text-anchor="middle" textLength="13" lengthAdjust="spacingAndGlyphs" >4,54 m²</text>
<text x="517.7" y="321.5" font-size="4.6" fill="#222" text-anchor="middle" textLength="22.5" lengthAdjust="spacingAndGlyphs" >ceramic tile</text>
<text x="434.7" y="353.2" font-size="5.4" fill="#111" text-anchor="middle" font-weight="bold" textLength="16.4" lengthAdjust="spacingAndGlyphs" >Garage</text>
<text x="434.7" y="359.2" font-size="4.6" fill="#222" text-anchor="middle" textLength="15" lengthAdjust="spacingAndGlyphs" >17,84 m²</text>
<text x="434.7" y="365.8" font-size="4.6" fill="#222" text-anchor="middle" textLength="26.9" lengthAdjust="spacingAndGlyphs" >concrete floor</text>
<text x="520.2" y="365.7" font-size="5.4" fill="#111" text-anchor="middle" font-weight="bold" textLength="19.3" lengthAdjust="spacingAndGlyphs" >Storage</text>
<text x="520.2" y="371.7" font-size="4.6" fill="#222" text-anchor="middle" textLength="15" lengthAdjust="spacingAndGlyphs" >14,06 m²</text>
<text x="520.2" y="378.3" font-size="4.6" fill="#222" text-anchor="middle" textLength="26.9" lengthAdjust="spacingAndGlyphs" >concrete floor</text>
<text x="415.9" y="407.9" font-size="5.4" fill="#111" text-anchor="middle" font-weight="bold" textLength="24.2" lengthAdjust="spacingAndGlyphs" >Basement</text>
<text x="415.9" y="413.3" font-size="4.6" fill="#222" text-anchor="middle" textLength="12.5" lengthAdjust="spacingAndGlyphs" >9,53 m²</text>
<text x="415.9" y="420.3" font-size="4.6" fill="#222" text-anchor="middle" textLength="26.9" lengthAdjust="spacingAndGlyphs" >concrete floor</text>
<text x="363.5" y="263" font-size="5.2" fill="#222" text-anchor="middle" >90</text>
<line x1="355.5" y1="264.5" x2="371.5" y2="264.5" stroke="#777" stroke-width="0.4" />
<text x="363.5" y="271.2" font-size="5.2" fill="#222" text-anchor="middle" >120</text>
<text x="363.5" y="311.2" font-size="5.2" fill="#222" text-anchor="middle" >90</text>
<line x1="354.5" y1="312.7" x2="372.5" y2="312.7" stroke="#777" stroke-width="0.4" />
<text x="363.5" y="319.4" font-size="5.2" fill="#222" text-anchor="middle" >120</text>
<text x="445.2" y="262.4" font-size="5.2" fill="#222" text-anchor="middle" >90</text>
<line x1="437.2" y1="263.9" x2="453.2" y2="263.9" stroke="#777" stroke-width="0.4" />
<text x="445.2" y="270.6" font-size="5.2" fill="#222" text-anchor="middle" >210</text>
<text x="445.2" y="295" font-size="5.2" fill="#222" text-anchor="middle" >90</text>
<line x1="437.2" y1="296.5" x2="453.2" y2="296.5" stroke="#777" stroke-width="0.4" />
<text x="445.2" y="303.2" font-size="5.2" fill="#222" text-anchor="middle" >210</text>
<text x="405.6" y="286.8" font-size="5.2" fill="#222" text-anchor="middle" >76</text>
<line x1="397.6" y1="288.3" x2="413.6" y2="288.3" stroke="#777" stroke-width="0.4" />
<text x="405.6" y="295" font-size="5.2" fill="#222" text-anchor="middle" >210</text>
<text x="494.3" y="284.3" font-size="5.2" fill="#222" text-anchor="middle" >76</text>
<line x1="486.3" y1="285.8" x2="502.3" y2="285.8" stroke="#777" stroke-width="0.4" />
<text x="494.3" y="292.5" font-size="5.2" fill="#222" text-anchor="middle" >210</text>
<text x="564" y="278" font-size="5.2" fill="#222" text-anchor="middle" >90</text>
<line x1="556" y1="279.5" x2="572" y2="279.5" stroke="#777" stroke-width="0.4" />
<text x="564" y="286.2" font-size="5.2" fill="#222" text-anchor="middle" >210</text>
<text x="363.8" y="357.4" font-size="5.2" fill="#222" text-anchor="middle" >210</text>
<line x1="355.8" y1="358.9" x2="371.8" y2="358.9" stroke="#777" stroke-width="0.4" />
<text x="363.8" y="365.6" font-size="5.2" fill="#222" text-anchor="middle" >210</text>
<text x="363.2" y="420.6" font-size="5.2" fill="#222" text-anchor="middle" >100</text>
<line x1="355.2" y1="422.1" x2="371.2" y2="422.1" stroke="#777" stroke-width="0.4" />
<text x="363.2" y="428.8" font-size="5.2" fill="#222" text-anchor="middle" >240</text>
<text x="503.1" y="347.8" font-size="5.2" fill="#222" text-anchor="middle" >90</text>
<line x1="495.1" y1="349.3" x2="511.1" y2="349.3" stroke="#777" stroke-width="0.4" />
<text x="503.1" y="356" font-size="5.2" fill="#222" text-anchor="middle" >210</text>
<text x="647.5" y="248.3" font-size="5.2" fill="#222" text-anchor="middle" >140</text>
<line x1="639.5" y1="249.8" x2="655.5" y2="249.8" stroke="#777" stroke-width="0.4" />
<text x="647.5" y="256.5" font-size="5.2" fill="#222" text-anchor="middle" >120</text>
<text x="521" y="212" font-size="5.2" fill="#222" text-anchor="middle" textLength="15.4" lengthAdjust="spacingAndGlyphs" >Sill 90</text>
<text x="484" y="410.8" font-size="5.2" fill="#222" text-anchor="middle" textLength="15.4" lengthAdjust="spacingAndGlyphs" >Sill 90</text>
<text x="416" y="434.5" font-size="5.2" fill="#222" text-anchor="middle" textLength="15.4" lengthAdjust="spacingAndGlyphs" >Sill 90</text>
<text x="382" y="265" font-size="5.2" fill="#222" text-anchor="middle" transform="rotate(-90 382 265)">Sill 90</text>
<text x="382" y="313.5" font-size="5.2" fill="#222" text-anchor="middle" transform="rotate(-90 382 313.5)">Sill 90</text>
<text x="633" y="251" font-size="5.2" fill="#222" text-anchor="middle" transform="rotate(-90 633 251)">Sill 90</text>
<text x="440.5" y="214" font-size="5.2" fill="#222" text-anchor="middle" transform="rotate(-90 440.5 214)">100</text>
<text x="448" y="214" font-size="5.2" fill="#222" text-anchor="middle" transform="rotate(-90 448 214)">190</text>
<text x="468.1" y="219" font-size="5.2" fill="#222" text-anchor="middle" transform="rotate(-90 468.1 219)">90</text>
<text x="475.4" y="219" font-size="5.2" fill="#222" text-anchor="middle" transform="rotate(-90 475.4 219)">201</text>
<text x="477" y="285" font-size="5.2" fill="#222" text-anchor="middle" transform="rotate(-90 477 285)">90</text>
<text x="484" y="285" font-size="5.2" fill="#222" text-anchor="middle" transform="rotate(-90 484 285)">210</text>
<text x="521" y="194" font-size="5.2" fill="#222" text-anchor="middle" transform="rotate(-90 521 194)">140</text>
<text x="528" y="194" font-size="5.2" fill="#222" text-anchor="middle" transform="rotate(-90 528 194)">120</text>
<text x="466.6" y="340" font-size="5.2" fill="#222" text-anchor="middle" transform="rotate(-90 466.6 340)">90</text>
<text x="475.2" y="340" font-size="5.2" fill="#222" text-anchor="middle" transform="rotate(-90 475.2 340)">210</text>
<text x="511.3" y="292" font-size="5.2" fill="#222" text-anchor="middle" transform="rotate(-90 511.3 292)">75</text>
<text x="519.6" y="292" font-size="5.2" fill="#222" text-anchor="middle" transform="rotate(-90 519.6 292)">210</text>
<text x="481.5" y="428" font-size="5.2" fill="#222" text-anchor="middle" transform="rotate(-90 481.5 428)">90</text>
<text x="489.5" y="428" font-size="5.2" fill="#222" text-anchor="middle" transform="rotate(-90 489.5 428)">120</text>
<text x="413.5" y="451.3" font-size="5.2" fill="#222" text-anchor="middle" transform="rotate(-90 413.5 451.3)">130</text>
<text x="421.3" y="451.3" font-size="5.2" fill="#222" text-anchor="middle" transform="rotate(-90 421.3 451.3)">120</text>
<line x1="484.8" y1="405" x2="484.8" y2="440" stroke="#666" stroke-width="0.4" />
<line x1="415.6" y1="436" x2="415.6" y2="460" stroke="#666" stroke-width="0.4" />
<text x="448.3" y="185" font-size="5" fill="#222" text-anchor="middle" >-2,95</text>
<text x="366" y="184.6" font-size="5" fill="#222" text-anchor="middle" >-2,95</text>
<text x="357" y="333" font-size="4.8" fill="#222" text-anchor="middle" >-2,96</text>
<text x="514" y="276.5" font-size="4.8" fill="#222" text-anchor="middle" >-2,96</text>
<line x1="351.5" y1="189.4" x2="360.5" y2="189.4" stroke="#333" stroke-width="0.45" />
<line x1="356" y1="184.9" x2="356" y2="193.9" stroke="#333" stroke-width="0.45" />
<circle cx="356" cy="189.4" r="2.3" fill="none" stroke="#333" stroke-width="0.4" />
<path d="M356 189.4 H358.3 A2.3 2.3 0 0 0 356 187.1 Z M356 189.4 H353.7 A2.3 2.3 0 0 0 356 191.70000000000002 Z" fill="#111" stroke="none" stroke-width="0" />
<line x1="433.7" y1="189.7" x2="442.7" y2="189.7" stroke="#333" stroke-width="0.45" />
<line x1="438.2" y1="185.2" x2="438.2" y2="194.2" stroke="#333" stroke-width="0.45" />
<circle cx="438.2" cy="189.7" r="2.3" fill="none" stroke="#333" stroke-width="0.4" />
<path d="M438.2 189.7 H440.5 A2.3 2.3 0 0 0 438.2 187.39999999999998 Z M438.2 189.7 H435.9 A2.3 2.3 0 0 0 438.2 192.0 Z" fill="#111" stroke="none" stroke-width="0" />
<line x1="500.1" y1="282.1" x2="509.1" y2="282.1" stroke="#333" stroke-width="0.45" />
<line x1="504.6" y1="277.6" x2="504.6" y2="286.6" stroke="#333" stroke-width="0.45" />
<circle cx="504.6" cy="282.1" r="2.3" fill="none" stroke="#333" stroke-width="0.4" />
<path d="M504.6 282.1 H506.90000000000003 A2.3 2.3 0 0 0 504.6 279.8 Z M504.6 282.1 H502.3 A2.3 2.3 0 0 0 504.6 284.40000000000003 Z" fill="#111" stroke="none" stroke-width="0" />
<line x1="346.8" y1="339.9" x2="355.8" y2="339.9" stroke="#333" stroke-width="0.45" />
<line x1="351.3" y1="335.4" x2="351.3" y2="344.4" stroke="#333" stroke-width="0.45" />
<circle cx="351.3" cy="339.9" r="2.3" fill="none" stroke="#333" stroke-width="0.4" />
<path d="M351.3 339.9 H353.6 A2.3 2.3 0 0 0 351.3 337.59999999999997 Z M351.3 339.9 H349.0 A2.3 2.3 0 0 0 351.3 342.2 Z" fill="#111" stroke="none" stroke-width="0" />
<line x1="370.3" y1="137.6" x2="642" y2="137.6" stroke="#444" stroke-width="0.5" />
<line x1="370.3" y1="135.8" x2="370.3" y2="139.4" stroke="#444" stroke-width="0.5" />
<line x1="369.3" y1="138.6" x2="371.3" y2="136.6" stroke="#444" stroke-width="0.6" />
<line x1="642" y1="135.8" x2="642" y2="139.4" stroke="#444" stroke-width="0.5" />
<line x1="641" y1="138.6" x2="643" y2="136.6" stroke="#444" stroke-width="0.6" />
<text x="506" y="136.9" font-size="5.0" fill="#1a1a1a" text-anchor="middle" >14,10</text>
<rect x="576" y="136" width="38" height="3" fill="#fff" stroke="none" stroke-width="1" />
<line x1="370.3" y1="144.2" x2="642" y2="144.2" stroke="#444" stroke-width="0.5" />
<line x1="370.3" y1="142.4" x2="370.3" y2="146" stroke="#444" stroke-width="0.5" />
<line x1="369.3" y1="145.2" x2="371.3" y2="143.2" stroke="#444" stroke-width="0.6" />
<line x1="443.7" y1="142.4" x2="443.7" y2="146" stroke="#444" stroke-width="0.5" />
<line x1="442.7" y1="145.2" x2="444.7" y2="143.2" stroke="#444" stroke-width="0.6" />
<line x1="520.3" y1="142.4" x2="520.3" y2="146" stroke="#444" stroke-width="0.5" />
<line x1="519.3" y1="145.2" x2="521.3" y2="143.2" stroke="#444" stroke-width="0.6" />
<line x1="590.3" y1="142.4" x2="590.3" y2="146" stroke="#444" stroke-width="0.5" />
<line x1="589.3" y1="145.2" x2="591.3" y2="143.2" stroke="#444" stroke-width="0.6" />
<line x1="642" y1="142.4" x2="642" y2="146" stroke="#444" stroke-width="0.5" />
<line x1="641" y1="145.2" x2="643" y2="143.2" stroke="#444" stroke-width="0.6" />
<text x="407" y="143.5" font-size="5.0" fill="#1a1a1a" text-anchor="middle" >3,80</text>
<text x="482.2" y="143.5" font-size="5.0" fill="#1a1a1a" text-anchor="middle" >4,00</text>
<text x="555.8" y="143.5" font-size="5.0" fill="#1a1a1a" text-anchor="middle" >3,65</text>
<text x="616.4" y="143.5" font-size="5.0" fill="#1a1a1a" text-anchor="middle" >2,85</text>
<line x1="370.3" y1="151.3" x2="642" y2="151.3" stroke="#444" stroke-width="0.5" />
<line x1="370.3" y1="149.5" x2="370.3" y2="153.1" stroke="#444" stroke-width="0.5" />
<line x1="369.3" y1="152.3" x2="371.3" y2="150.3" stroke="#444" stroke-width="0.6" />
<line x1="378.6" y1="149.5" x2="378.6" y2="153.1" stroke="#444" stroke-width="0.5" />
<line x1="377.6" y1="152.3" x2="379.6" y2="150.3" stroke="#444" stroke-width="0.6" />
<line x1="395.5" y1="149.5" x2="395.5" y2="153.1" stroke="#444" stroke-width="0.5" />
<line x1="394.5" y1="152.3" x2="396.5" y2="150.3" stroke="#444" stroke-width="0.6" />
<line x1="404.6" y1="149.5" x2="404.6" y2="153.1" stroke="#444" stroke-width="0.5" />
<line x1="403.6" y1="152.3" x2="405.6" y2="150.3" stroke="#444" stroke-width="0.6" />
<line x1="482.8" y1="149.5" x2="482.8" y2="153.1" stroke="#444" stroke-width="0.5" />
<line x1="481.8" y1="152.3" x2="483.8" y2="150.3" stroke="#444" stroke-width="0.6" />
<line x1="485.7" y1="149.5" x2="485.7" y2="153.1" stroke="#444" stroke-width="0.5" />
<line x1="484.7" y1="152.3" x2="486.7" y2="150.3" stroke="#444" stroke-width="0.6" />
<line x1="547.5" y1="149.5" x2="547.5" y2="153.1" stroke="#444" stroke-width="0.5" />
<line x1="546.5" y1="152.3" x2="548.5" y2="150.3" stroke="#444" stroke-width="0.6" />
<line x1="555.2" y1="149.5" x2="555.2" y2="153.1" stroke="#444" stroke-width="0.5" />
<line x1="554.2" y1="152.3" x2="556.2" y2="150.3" stroke="#444" stroke-width="0.6" />
<line x1="590.3" y1="149.5" x2="590.3" y2="153.1" stroke="#444" stroke-width="0.5" />
<line x1="589.3" y1="152.3" x2="591.3" y2="150.3" stroke="#444" stroke-width="0.6" />
<line x1="642" y1="149.5" x2="642" y2="153.1" stroke="#444" stroke-width="0.5" />
<line x1="641" y1="152.3" x2="643" y2="150.3" stroke="#444" stroke-width="0.6" />
<text x="374.5" y="150.6" font-size="5.0" fill="#1a1a1a" text-anchor="middle" >40</text>
<text x="386.9" y="150.6" font-size="5.0" fill="#1a1a1a" text-anchor="middle" >68</text>
<text x="400.3" y="150.6" font-size="5.0" fill="#1a1a1a" text-anchor="middle" >50</text>
<text x="440.7" y="150.6" font-size="5.0" fill="#1a1a1a" text-anchor="middle" >4,02</text>
<text x="479.2" y="150.6" font-size="5.0" fill="#1a1a1a" text-anchor="middle" >20</text>
<text x="516.7" y="150.6" font-size="5.0" fill="#1a1a1a" text-anchor="middle" >3,20</text>
<text x="551.4" y="150.6" font-size="5.0" fill="#1a1a1a" text-anchor="middle" >40</text>
<text x="572.9" y="150.6" font-size="5.0" fill="#1a1a1a" text-anchor="middle" >1,86</text>
<text x="616.4" y="150.6" font-size="5.0" fill="#1a1a1a" text-anchor="middle" >2,85</text>
<line x1="370.9" y1="511.8" x2="555.7" y2="511.8" stroke="#444" stroke-width="0.5" />
<line x1="370.9" y1="510" x2="370.9" y2="513.6" stroke="#444" stroke-width="0.5" />
<line x1="369.9" y1="512.8" x2="371.9" y2="510.8" stroke="#444" stroke-width="0.6" />
<line x1="378.5" y1="510" x2="378.5" y2="513.6" stroke="#444" stroke-width="0.5" />
<line x1="377.5" y1="512.8" x2="379.5" y2="510.8" stroke="#444" stroke-width="0.6" />
<line x1="453.8" y1="510" x2="453.8" y2="513.6" stroke="#444" stroke-width="0.5" />
<line x1="452.8" y1="512.8" x2="454.8" y2="510.8" stroke="#444" stroke-width="0.6" />
<line x1="461.4" y1="510" x2="461.4" y2="513.6" stroke="#444" stroke-width="0.5" />
<line x1="460.4" y1="512.8" x2="462.4" y2="510.8" stroke="#444" stroke-width="0.6" />
<line x1="502.8" y1="510" x2="502.8" y2="513.6" stroke="#444" stroke-width="0.5" />
<line x1="501.8" y1="512.8" x2="503.8" y2="510.8" stroke="#444" stroke-width="0.6" />
<line x1="508.4" y1="510" x2="508.4" y2="513.6" stroke="#444" stroke-width="0.5" />
<line x1="507.4" y1="512.8" x2="509.4" y2="510.8" stroke="#444" stroke-width="0.6" />
<line x1="547.6" y1="510" x2="547.6" y2="513.6" stroke="#444" stroke-width="0.5" />
<line x1="546.6" y1="512.8" x2="548.6" y2="510.8" stroke="#444" stroke-width="0.6" />
<line x1="555.7" y1="510" x2="555.7" y2="513.6" stroke="#444" stroke-width="0.5" />
<line x1="554.7" y1="512.8" x2="556.7" y2="510.8" stroke="#444" stroke-width="0.6" />
<text x="374.8" y="511.1" font-size="5.0" fill="#1a1a1a" text-anchor="middle" >40</text>
<text x="415.7" y="511.1" font-size="5.0" fill="#1a1a1a" text-anchor="middle" >3,00</text>
<text x="457.6" y="511.1" font-size="5.0" fill="#1a1a1a" text-anchor="middle" >40</text>
<text x="479.1" y="511.1" font-size="5.0" fill="#1a1a1a" text-anchor="middle" >3,15</text>
<text x="499.4" y="511.1" font-size="5.0" fill="#1a1a1a" text-anchor="middle" >30</text>
<text x="528.1" y="511.1" font-size="5.0" fill="#1a1a1a" text-anchor="middle" >3,05</text>
<text x="551.8" y="511.1" font-size="5.0" fill="#1a1a1a" text-anchor="middle" >40</text>
<line x1="370.9" y1="518.3" x2="555.7" y2="518.3" stroke="#222" stroke-width="0.5" />
<line x1="370.9" y1="516.5" x2="370.9" y2="520.1" stroke="#222" stroke-width="0.5" />
<line x1="369.9" y1="519.3" x2="371.9" y2="517.3" stroke="#222" stroke-width="0.6" />
<line x1="415.4" y1="516.5" x2="415.4" y2="520.1" stroke="#222" stroke-width="0.5" />
<line x1="414.4" y1="519.3" x2="416.4" y2="517.3" stroke="#222" stroke-width="0.6" />
<line x1="461.4" y1="516.5" x2="461.4" y2="520.1" stroke="#222" stroke-width="0.5" />
<line x1="460.4" y1="519.3" x2="462.4" y2="517.3" stroke="#222" stroke-width="0.6" />
<line x1="484.2" y1="516.5" x2="484.2" y2="520.1" stroke="#222" stroke-width="0.5" />
<line x1="483.2" y1="519.3" x2="485.2" y2="517.3" stroke="#222" stroke-width="0.6" />
<line x1="502.3" y1="516.5" x2="502.3" y2="520.1" stroke="#222" stroke-width="0.5" />
<line x1="501.3" y1="519.3" x2="503.3" y2="517.3" stroke="#222" stroke-width="0.6" />
<line x1="555.7" y1="516.5" x2="555.7" y2="520.1" stroke="#222" stroke-width="0.5" />
<line x1="554.7" y1="519.3" x2="556.7" y2="517.3" stroke="#222" stroke-width="0.6" />
<text x="393.4" y="517.6" font-size="5.0" fill="#1a1a1a" text-anchor="middle" >2,35</text>
<text x="438.5" y="517.6" font-size="5.0" fill="#1a1a1a" text-anchor="middle" >2,35</text>
<text x="472.4" y="517.6" font-size="5.0" fill="#1a1a1a" text-anchor="middle" >1,20</text>
<text x="493.5" y="517.6" font-size="5.0" fill="#1a1a1a" text-anchor="middle" >95</text>
<text x="528.1" y="517.6" font-size="5.0" fill="#1a1a1a" text-anchor="middle" >2,75</text>
<line x1="370.9" y1="525.4" x2="555.7" y2="525.4" stroke="#444" stroke-width="0.5" />
<line x1="370.9" y1="523.6" x2="370.9" y2="527.2" stroke="#444" stroke-width="0.5" />
<line x1="369.9" y1="526.4" x2="371.9" y2="524.4" stroke="#444" stroke-width="0.6" />
<line x1="555.7" y1="523.6" x2="555.7" y2="527.2" stroke="#444" stroke-width="0.5" />
<line x1="554.7" y1="526.4" x2="556.7" y2="524.4" stroke="#444" stroke-width="0.6" />
<text x="462.7" y="524.7" font-size="5.0" fill="#1a1a1a" text-anchor="middle" >9,60</text>
<line x1="309.4" y1="199.4" x2="309.4" y2="443" stroke="#444" stroke-width="0.5" />
<line x1="307.6" y1="199.4" x2="311.2" y2="199.4" stroke="#444" stroke-width="0.5" />
<line x1="308.4" y1="200.4" x2="310.4" y2="198.4" stroke="#444" stroke-width="0.6" />
<line x1="307.6" y1="328.4" x2="311.2" y2="328.4" stroke="#444" stroke-width="0.5" />
<line x1="308.4" y1="329.4" x2="310.4" y2="327.4" stroke="#444" stroke-width="0.6" />
<line x1="307.6" y1="443" x2="311.2" y2="443" stroke="#444" stroke-width="0.5" />
<line x1="308.4" y1="444" x2="310.4" y2="442" stroke="#444" stroke-width="0.6" />
<text x="308.7" y="321.9" font-size="5.0" fill="#222" text-anchor="middle" transform="rotate(-90 308.7 321.9)">12,70</text>
<line x1="315.9" y1="199.4" x2="315.9" y2="443" stroke="#444" stroke-width="0.5" />
<line x1="314.1" y1="199.4" x2="317.7" y2="199.4" stroke="#444" stroke-width="0.5" />
<line x1="314.9" y1="200.4" x2="316.9" y2="198.4" stroke="#444" stroke-width="0.6" />
<line x1="314.1" y1="264" x2="317.7" y2="264" stroke="#444" stroke-width="0.5" />
<line x1="314.9" y1="265" x2="316.9" y2="263" stroke="#444" stroke-width="0.6" />
<line x1="314.1" y1="328.4" x2="317.7" y2="328.4" stroke="#444" stroke-width="0.5" />
<line x1="314.9" y1="329.4" x2="316.9" y2="327.4" stroke="#444" stroke-width="0.6" />
<line x1="314.1" y1="370" x2="317.7" y2="370" stroke="#444" stroke-width="0.5" />
<line x1="314.9" y1="371" x2="316.9" y2="369" stroke="#444" stroke-width="0.6" />
<line x1="314.1" y1="410" x2="317.7" y2="410" stroke="#444" stroke-width="0.5" />
<line x1="314.9" y1="411" x2="316.9" y2="409" stroke="#444" stroke-width="0.6" />
<line x1="314.1" y1="443" x2="317.7" y2="443" stroke="#444" stroke-width="0.5" />
<line x1="314.9" y1="444" x2="316.9" y2="442" stroke="#444" stroke-width="0.6" />
<text x="315.2" y="229.2" font-size="5.0" fill="#222" text-anchor="middle" transform="rotate(-90 315.2 229.2)">3,40</text>
<text x="315.2" y="288.7" font-size="5.0" fill="#222" text-anchor="middle" transform="rotate(-90 315.2 288.7)">2,51</text>
<text x="315.2" y="336" font-size="5.0" fill="#222" text-anchor="middle" transform="rotate(-90 315.2 336)">2,37</text>
<text x="315.2" y="390.2" font-size="5.0" fill="#222" text-anchor="middle" transform="rotate(-90 315.2 390.2)">3,32</text>
<text x="315.2" y="432.7" font-size="5.0" fill="#222" text-anchor="middle" transform="rotate(-90 315.2 432.7)">1,19</text>
<line x1="322.6" y1="199.4" x2="322.6" y2="443" stroke="#444" stroke-width="0.5" />
<line x1="320.8" y1="199.4" x2="324.4" y2="199.4" stroke="#444" stroke-width="0.5" />
<line x1="321.6" y1="200.4" x2="323.6" y2="198.4" stroke="#444" stroke-width="0.6" />
<line x1="320.8" y1="209" x2="324.4" y2="209" stroke="#444" stroke-width="0.5" />
<line x1="321.6" y1="210" x2="323.6" y2="208" stroke="#444" stroke-width="0.6" />
<line x1="320.8" y1="280.8" x2="324.4" y2="280.8" stroke="#444" stroke-width="0.5" />
<line x1="321.6" y1="281.8" x2="323.6" y2="279.8" stroke="#444" stroke-width="0.6" />
<line x1="320.8" y1="284" x2="324.4" y2="284" stroke="#444" stroke-width="0.5" />
<line x1="321.6" y1="285" x2="323.6" y2="283" stroke="#444" stroke-width="0.6" />
<line x1="320.8" y1="300" x2="324.4" y2="300" stroke="#444" stroke-width="0.5" />
<line x1="321.6" y1="301" x2="323.6" y2="299" stroke="#444" stroke-width="0.6" />
<line x1="320.8" y1="303" x2="324.4" y2="303" stroke="#444" stroke-width="0.5" />
<line x1="321.6" y1="304" x2="323.6" y2="302" stroke="#444" stroke-width="0.6" />
<line x1="320.8" y1="328.4" x2="324.4" y2="328.4" stroke="#444" stroke-width="0.5" />
<line x1="321.6" y1="329.4" x2="323.6" y2="327.4" stroke="#444" stroke-width="0.6" />
<line x1="320.8" y1="334" x2="324.4" y2="334" stroke="#444" stroke-width="0.5" />
<line x1="321.6" y1="335" x2="323.6" y2="333" stroke="#444" stroke-width="0.6" />
<line x1="320.8" y1="390" x2="324.4" y2="390" stroke="#444" stroke-width="0.5" />
<line x1="321.6" y1="391" x2="323.6" y2="389" stroke="#444" stroke-width="0.6" />
<line x1="320.8" y1="393" x2="324.4" y2="393" stroke="#444" stroke-width="0.5" />
<line x1="321.6" y1="394" x2="323.6" y2="392" stroke="#444" stroke-width="0.6" />
<line x1="320.8" y1="438" x2="324.4" y2="438" stroke="#444" stroke-width="0.5" />
<line x1="321.6" y1="439" x2="323.6" y2="437" stroke="#444" stroke-width="0.6" />
<line x1="320.8" y1="443" x2="324.4" y2="443" stroke="#444" stroke-width="0.5" />
<line x1="321.6" y1="444" x2="323.6" y2="442" stroke="#444" stroke-width="0.6" />
<text x="321.9" y="205.2" font-size="5.0" fill="#222" text-anchor="middle" transform="rotate(-90 321.9 205.2)">40</text>
<text x="321.9" y="243.8" font-size="5.0" fill="#222" text-anchor="middle" transform="rotate(-90 321.9 243.8)">3,80</text>
<text x="321.9" y="286" font-size="5.0" fill="#222" text-anchor="middle" transform="rotate(-90 321.9 286)">12</text>
<text x="321.9" y="293" font-size="5.0" fill="#222" text-anchor="middle" transform="rotate(-90 321.9 293)">76</text>
<text x="321.9" y="301" font-size="5.0" fill="#222" text-anchor="middle" transform="rotate(-90 321.9 301)">12</text>
<text x="321.9" y="315.5" font-size="5.0" fill="#222" text-anchor="middle" transform="rotate(-90 321.9 315.5)">1,44</text>
<text x="321.9" y="332" font-size="5.0" fill="#222" text-anchor="middle" transform="rotate(-90 321.9 332)">12</text>
<text x="321.9" y="361.9" font-size="5.0" fill="#222" text-anchor="middle" transform="rotate(-90 321.9 361.9)">3,00</text>
<text x="321.9" y="391.5" font-size="5.0" fill="#222" text-anchor="middle" transform="rotate(-90 321.9 391.5)">12</text>
<text x="321.9" y="414.7" font-size="5.0" fill="#222" text-anchor="middle" transform="rotate(-90 321.9 414.7)">2,49</text>
<text x="321.9" y="440.5" font-size="5.0" fill="#222" text-anchor="middle" transform="rotate(-90 321.9 440.5)">40</text>
<line x1="671" y1="199" x2="671" y2="443.4" stroke="#444" stroke-width="0.5" />
<line x1="669.2" y1="199" x2="672.8" y2="199" stroke="#444" stroke-width="0.5" />
<line x1="670" y1="200" x2="672" y2="198" stroke="#444" stroke-width="0.6" />
<line x1="669.2" y1="206" x2="672.8" y2="206" stroke="#444" stroke-width="0.5" />
<line x1="670" y1="207" x2="672" y2="205" stroke="#444" stroke-width="0.6" />
<line x1="669.2" y1="250.6" x2="672.8" y2="250.6" stroke="#444" stroke-width="0.5" />
<line x1="670" y1="251.6" x2="672" y2="249.6" stroke="#444" stroke-width="0.6" />
<line x1="669.2" y1="300.8" x2="672.8" y2="300.8" stroke="#444" stroke-width="0.5" />
<line x1="670" y1="301.8" x2="672" y2="299.8" stroke="#444" stroke-width="0.6" />
<line x1="669.2" y1="410" x2="672.8" y2="410" stroke="#444" stroke-width="0.5" />
<line x1="670" y1="411" x2="672" y2="409" stroke="#444" stroke-width="0.6" />
<line x1="669.2" y1="417" x2="672.8" y2="417" stroke="#444" stroke-width="0.5" />
<line x1="670" y1="418" x2="672" y2="416" stroke="#444" stroke-width="0.6" />
<line x1="669.2" y1="440" x2="672.8" y2="440" stroke="#444" stroke-width="0.5" />
<line x1="670" y1="441" x2="672" y2="439" stroke="#444" stroke-width="0.6" />
<line x1="669.2" y1="443.4" x2="672.8" y2="443.4" stroke="#444" stroke-width="0.5" />
<line x1="670" y1="444.4" x2="672" y2="442.4" stroke="#444" stroke-width="0.6" />
<text x="670.3" y="202.9" font-size="5.0" fill="#222" text-anchor="middle" transform="rotate(-90 670.3 202.9)">40</text>
<text x="670.3" y="250.6" font-size="5.0" fill="#222" text-anchor="middle" transform="rotate(-90 670.3 250.6)">4,50</text>
<text x="670.3" y="295.7" font-size="5.0" fill="#222" text-anchor="middle" transform="rotate(-90 670.3 295.7)">40</text>
<text x="670.3" y="357" font-size="5.0" fill="#222" text-anchor="middle" transform="rotate(-90 670.3 357)">5,75</text>
<text x="670.3" y="415" font-size="5.0" fill="#222" text-anchor="middle" transform="rotate(-90 670.3 415)">40</text>
<text x="670.3" y="429" font-size="5.0" fill="#222" text-anchor="middle" transform="rotate(-90 670.3 429)">1,35</text>
<line x1="677.7" y1="199" x2="677.7" y2="443.4" stroke="#444" stroke-width="0.5" />
<line x1="675.9" y1="199" x2="679.5" y2="199" stroke="#444" stroke-width="0.5" />
<line x1="676.7" y1="200" x2="678.7" y2="198" stroke="#444" stroke-width="0.6" />
<line x1="675.9" y1="250.6" x2="679.5" y2="250.6" stroke="#444" stroke-width="0.5" />
<line x1="676.7" y1="251.6" x2="678.7" y2="249.6" stroke="#444" stroke-width="0.6" />
<line x1="675.9" y1="300.8" x2="679.5" y2="300.8" stroke="#444" stroke-width="0.5" />
<line x1="676.7" y1="301.8" x2="678.7" y2="299.8" stroke="#444" stroke-width="0.6" />
<line x1="675.9" y1="417" x2="679.5" y2="417" stroke="#444" stroke-width="0.5" />
<line x1="676.7" y1="418" x2="678.7" y2="416" stroke="#444" stroke-width="0.6" />
<line x1="675.9" y1="440" x2="679.5" y2="440" stroke="#444" stroke-width="0.5" />
<line x1="676.7" y1="441" x2="678.7" y2="439" stroke="#444" stroke-width="0.6" />
<line x1="675.9" y1="443.4" x2="679.5" y2="443.4" stroke="#444" stroke-width="0.5" />
<line x1="676.7" y1="444.4" x2="678.7" y2="442.4" stroke="#444" stroke-width="0.6" />
<text x="677" y="224.8" font-size="5.0" fill="#222" text-anchor="middle" transform="rotate(-90 677 224.8)">2,85</text>
<text x="677" y="275" font-size="5.0" fill="#222" text-anchor="middle" transform="rotate(-90 677 275)">2,85</text>
<text x="677" y="361" font-size="5.0" fill="#222" text-anchor="middle" transform="rotate(-90 677 361)">6,15</text>
<text x="677" y="429" font-size="5.0" fill="#222" text-anchor="middle" transform="rotate(-90 677 429)">1,35</text>
<line x1="684.6" y1="199" x2="684.6" y2="443.4" stroke="#444" stroke-width="0.5" />
<line x1="682.8" y1="199" x2="686.4" y2="199" stroke="#444" stroke-width="0.5" />
<line x1="683.6" y1="200" x2="685.6" y2="198" stroke="#444" stroke-width="0.6" />
<line x1="682.8" y1="443.4" x2="686.4" y2="443.4" stroke="#444" stroke-width="0.5" />
<line x1="683.6" y1="444.4" x2="685.6" y2="442.4" stroke="#444" stroke-width="0.6" />
<text x="683.9" y="321.4" font-size="5.0" fill="#222" text-anchor="middle" transform="rotate(-90 683.9 321.4)">12,70</text>
<line x1="309.4" y1="328.4" x2="344" y2="328.4" stroke="#666" stroke-width="0.5" />
<text x="302.7" y="358.8" font-size="4.8" fill="#222" text-anchor="middle" >14,9%</text>
<line x1="311" y1="359.5" x2="326" y2="359.5" stroke="#444" stroke-width="0.5" />
<path d="M590.7 185 A63 63 0 0 1 632 297.5" fill="none" stroke="#666" stroke-width="0.5" />
<text x="631" y="201" font-size="4.6" fill="#222" text-anchor="middle" transform="rotate(35 631 201)">3,45</text>
<text x="640" y="296" font-size="4.6" fill="#222" text-anchor="middle" transform="rotate(-40 640 296)">3,45</text>
<rect x="271.5" y="147.9" width="22" height="32.2" fill="#fff" stroke="#222" stroke-width="1.2" />
<rect x="275.5" y="151" width="15" height="26" fill="none" stroke="#666" stroke-width="0.6" />
<rect x="278" y="154" width="9" height="8" fill="none" stroke="#888" stroke-width="0.5" rx="1.5"/>
<rect x="278" y="165" width="9" height="8" fill="none" stroke="#888" stroke-width="0.5" rx="1.5"/>
<path d="M276 147 A25 25 0 0 1 325 152 A25 25 0 0 1 300 176" fill="none" stroke="#888" stroke-width="0.5" />
<text x="277.5" y="130" font-size="5.6" fill="#222" >1,15</text>
<text x="298" y="130" font-size="5.6" fill="#222" >1,02</text>
<text x="264.4" y="136" font-size="5.6" fill="#222" >12</text>
<text x="278.4" y="136" font-size="5.6" fill="#222" >1,03</text>
<line x1="275" y1="131.2" x2="313.6" y2="131.2" stroke="#444" stroke-width="0.5" />
<line x1="275" y1="129.4" x2="275" y2="133" stroke="#444" stroke-width="0.5" />
<line x1="274" y1="132.2" x2="276" y2="130.2" stroke="#444" stroke-width="0.6" />
<line x1="296" y1="129.4" x2="296" y2="133" stroke="#444" stroke-width="0.5" />
<line x1="295" y1="132.2" x2="297" y2="130.2" stroke="#444" stroke-width="0.6" />
<line x1="313.6" y1="129.4" x2="313.6" y2="133" stroke="#444" stroke-width="0.5" />
<line x1="312.6" y1="132.2" x2="314.6" y2="130.2" stroke="#444" stroke-width="0.6" />
<line x1="275" y1="137.5" x2="293.8" y2="137.5" stroke="#444" stroke-width="0.5" />
<line x1="275" y1="135.7" x2="275" y2="139.3" stroke="#444" stroke-width="0.5" />
<line x1="274" y1="138.5" x2="276" y2="136.5" stroke="#444" stroke-width="0.6" />
<line x1="293.8" y1="135.7" x2="293.8" y2="139.3" stroke="#444" stroke-width="0.5" />
<line x1="292.8" y1="138.5" x2="294.8" y2="136.5" stroke="#444" stroke-width="0.6" />
<line x1="319.9" y1="147" x2="319.9" y2="179.8" stroke="#444" stroke-width="0.5" />
<line x1="318.1" y1="147" x2="321.7" y2="147" stroke="#444" stroke-width="0.5" />
<line x1="318.9" y1="148" x2="320.9" y2="146" stroke="#444" stroke-width="0.6" />
<line x1="318.1" y1="153" x2="321.7" y2="153" stroke="#444" stroke-width="0.5" />
<line x1="318.9" y1="154" x2="320.9" y2="152" stroke="#444" stroke-width="0.6" />
<line x1="318.1" y1="179.8" x2="321.7" y2="179.8" stroke="#444" stroke-width="0.5" />
<line x1="318.9" y1="180.8" x2="320.9" y2="178.8" stroke="#444" stroke-width="0.6" />
<text x="319.2" y="150" font-size="5.0" fill="#222" text-anchor="middle" transform="rotate(-90 319.2 150)">12</text>
<text x="319.2" y="166" font-size="5.0" fill="#222" text-anchor="middle" transform="rotate(-90 319.2 166)">1,63</text>
<line x1="327" y1="147" x2="327" y2="209" stroke="#444" stroke-width="0.5" />
<line x1="325.2" y1="147" x2="328.8" y2="147" stroke="#444" stroke-width="0.5" />
<line x1="326" y1="148" x2="328" y2="146" stroke="#444" stroke-width="0.6" />
<line x1="325.2" y1="179.8" x2="328.8" y2="179.8" stroke="#444" stroke-width="0.5" />
<line x1="326" y1="180.8" x2="328" y2="178.8" stroke="#444" stroke-width="0.6" />
<line x1="325.2" y1="199.4" x2="328.8" y2="199.4" stroke="#444" stroke-width="0.5" />
<line x1="326" y1="200.4" x2="328" y2="198.4" stroke="#444" stroke-width="0.6" />
<line x1="325.2" y1="209" x2="328.8" y2="209" stroke="#444" stroke-width="0.5" />
<line x1="326" y1="210" x2="328" y2="208" stroke="#444" stroke-width="0.6" />
<text x="326.3" y="163" font-size="5.0" fill="#222" text-anchor="middle" transform="rotate(-90 326.3 163)">1,65</text>
<text x="326.3" y="189" font-size="5.0" fill="#222" text-anchor="middle" transform="rotate(-90 326.3 189)">1,00</text>
<text x="326.3" y="204" font-size="5.0" fill="#222" text-anchor="middle" transform="rotate(-90 326.3 204)">40</text>
<path d="M594.3 108.5L593.8 94.9 M593.8 94.9L591.1 86.0 M591.1 86.0L587.1 80.9 M587.1 80.9L583.1 79.0 M587.1 80.9L584.8 76.8 M591.1 86.0L592.0 79.6 M592.0 79.6L590.7 75.8 M592.0 79.6L593.2 75.4 M593.8 94.9L597.4 86.0 M597.4 86.0L597.4 79.7 M597.4 79.7L596.7 75.0 M597.4 79.7L598.3 75.8 M597.4 86.0L603.1 81.9 M603.1 81.9L604.9 77.7 M603.1 81.9L607.5 79.6 M594.3 108.5L605.8 100.5 M605.8 100.5L609.2 92.0 M609.2 92.0L608.4 86.4 M608.4 86.4L607.1 82.9 M608.4 86.4L608.5 82.3 M609.2 92.0L614.6 88.2 M614.6 88.2L617.2 84.0 M614.6 88.2L619.1 86.0 M605.8 100.5L614.3 98.2 M614.3 98.2L618.6 93.8 M618.6 93.8L620.0 89.7 M618.6 93.8L622.6 91.8 M614.3 98.2L620.0 98.3 M620.0 98.3L624.1 97.4 M620.0 98.3L623.5 99.3 M594.3 108.5L608.3 110.6 M608.3 110.6L617.3 108.5 M617.3 108.5L622.2 104.0 M622.2 104.0L623.7 99.9 M622.2 104.0L626.4 102.9 M617.3 108.5L623.6 108.5 M623.6 108.5L627.4 107.4 M623.6 108.5L627.5 110.3 M608.3 110.6L616.6 117.1 M616.6 117.1L624.0 117.7 M624.0 117.7L629.2 116.5 M624.0 117.7L628.8 120.4 M616.6 117.1L620.8 123.2 M620.8 123.2L624.6 127.2 M620.8 123.2L622.0 128.1 M594.3 108.5L600.1 121.5 M600.1 121.5L606.7 128.5 M606.7 128.5L612.4 131.8 M612.4 131.8L617.2 132.7 M612.4 131.8L615.3 135.1 M606.7 128.5L609.4 133.7 M609.4 133.7L612.7 136.4 M609.4 133.7L610.2 138.0 M600.1 121.5L598.8 132.0 M598.8 132.0L599.5 139.0 M599.5 139.0L601.3 143.3 M599.5 139.0L597.9 144.0 M598.8 132.0L596.2 138.5 M596.2 138.5L595.6 143.4 M596.2 138.5L593.9 142.3 M594.3 108.5L590.3 122.0 M590.3 122.0L593.1 130.5 M593.1 130.5L596.8 134.7 M596.8 134.7L599.7 136.9 M596.8 134.7L598.2 138.4 M593.1 130.5L592.9 136.3 M592.9 136.3L594.7 139.8 M592.9 136.3L591.2 139.9 M590.3 122.0L583.4 127.7 M583.4 127.7L579.4 132.6 M579.4 132.6L578.6 136.8 M579.4 132.6L575.2 134.5 M583.4 127.7L577.1 129.1 M577.1 129.1L573.1 131.3 M577.1 129.1L572.5 128.6 M594.3 108.5L582.1 114.0 M582.1 114.0L575.6 121.1 M575.6 121.1L573.5 126.7 M573.5 126.7L572.9 130.5 M573.5 126.7L571.5 130.0 M575.6 121.1L569.3 122.9 M569.3 122.9L565.5 124.6 M569.3 122.9L564.8 122.5 M582.1 114.0L572.3 112.7 M572.3 112.7L565.6 115.2 M565.6 115.2L561.2 117.5 M565.6 115.2L561.1 115.1 M572.3 112.7L566.5 109.2 M566.5 109.2L562.5 108.0 M566.5 109.2L563.3 106.0" fill="none" stroke="#555" stroke-width="0.55" stroke-linecap="round"/>
<circle cx="465.9" cy="107.3" r="30" fill="rgba(15,100,250,0.2)" stroke="none" stroke-width="0.7" />
<circle cx="340.7" cy="205.9" r="29.5" fill="rgba(15,100,250,0.2)" stroke="none" stroke-width="0.7" />
<circle cx="690.7" cy="205.6" r="29.9" fill="rgba(15,100,250,0.2)" stroke="none" stroke-width="0.7" />
<circle cx="695.1" cy="303.2" r="29.9" fill="rgba(15,100,250,0.2)" stroke="none" stroke-width="0.7" />
<circle cx="280.5" cy="341.3" r="29.3" fill="rgba(15,100,250,0.2)" stroke="none" stroke-width="0.7" />
<circle cx="466.1" cy="536" r="30" fill="rgba(15,100,250,0.2)" stroke="none" stroke-width="0.7" />
<text x="440.9" y="110.4" font-size="6.6" fill="#1a1a2a" textLength="38.4" lengthAdjust="spacingAndGlyphs" >North Elevation</text>
<path d="M481.9 102.8 H492 L487 112.4 Z" fill="none" stroke="#666" stroke-width="0.6" />
<text x="440.3" y="538.4" font-size="6.6" fill="#1a1a2a" textLength="39" lengthAdjust="spacingAndGlyphs" >South Elevation</text>
<path d="M482.2 540.8 H491.8 L487 531.2 Z" fill="none" stroke="#666" stroke-width="0.6" />
<text x="283.3" y="367" font-size="6.6" fill="#1a1a2a" textLength="37.4" lengthAdjust="spacingAndGlyphs" transform="rotate(-90 283.3 367)">West Elevation</text>
<path d="M276.3 316.5 V326.1 L285.7 321.3 Z" fill="none" stroke="#666" stroke-width="0.6" />
<text x="697.8" y="314.2" font-size="6.6" fill="#1a1a2a" textLength="35.8" lengthAdjust="spacingAndGlyphs" transform="rotate(-90 697.8 314.2)">East Elevation</text>
<path d="M690.1 321.7 L700.2 317 L700.2 326.5 Z" fill="none" stroke="#666" stroke-width="0.6" />
<text x="336.9" y="206.8" font-size="6.6" fill="#1a1a2a" textLength="6.8" lengthAdjust="spacingAndGlyphs" >A1</text>
<line x1="348.8" y1="210.8" x2="365.7" y2="210.8" stroke="#555" stroke-width="1.1" />
<line x1="388.7" y1="210.8" x2="399.5" y2="210.8" stroke="#555" stroke-width="1.1" />
<line x1="459" y1="210.8" x2="468.4" y2="210.8" stroke="#555" stroke-width="1.1" />
<line x1="491.7" y1="210.8" x2="504.6" y2="210.8" stroke="#555" stroke-width="1.1" />
<line x1="529.5" y1="210.8" x2="539" y2="210.8" stroke="#555" stroke-width="1.1" />
<line x1="562.3" y1="210.8" x2="574.3" y2="210.8" stroke="#555" stroke-width="1.1" />
<line x1="596.7" y1="210.8" x2="608.2" y2="210.8" stroke="#555" stroke-width="1.1" />
<line x1="631" y1="210.8" x2="643" y2="210.8" stroke="#555" stroke-width="1.1" />
<line x1="666.6" y1="210.8" x2="683.6" y2="210.8" stroke="#555" stroke-width="1.1" />
<text x="688.8" y="207.2" font-size="6.6" fill="#1a1a2a" textLength="6.4" lengthAdjust="spacingAndGlyphs" >A1</text>
<circle cx="904.1" cy="101.9" r="19.8" fill="none" stroke="#666" stroke-width="0.6" />
<path d="M898.4 83.6 L898.4 120.2 L916.6 115.9 Z" fill="#111" stroke="#111" stroke-width="0.5" />
<line x1="881.6" y1="107.4" x2="926.4" y2="95.8" stroke="#777" stroke-width="0.5" />
<line x1="909" y1="120.5" x2="910" y2="124" stroke="#777" stroke-width="0.5" />
<text x="893.5" y="73.8" font-size="13" fill="#111" text-anchor="middle" font-weight="bold" transform="rotate(-15 898 71)" style="font-family:'Liberation Serif',serif">N</text>
<line x1="854.8" y1="153.5" x2="952.3" y2="153.5" stroke="#333" stroke-width="0.5" />
<rect x="856" y="154.2" width="18.6" height="2.2" fill="#fff" stroke="#222" stroke-width="0.5" />
<rect x="856" y="154.2" width="3.7" height="2.2" fill="#222" stroke="none" stroke-width="1" />
<rect x="863.4" y="154.2" width="3.7" height="2.2" fill="#222" stroke="none" stroke-width="1" />
<rect x="870.8" y="154.2" width="3.7" height="2.2" fill="#222" stroke="none" stroke-width="1" />
<rect x="874.6" y="154.2" width="19.5" height="2.2" fill="#222" stroke="none" stroke-width="1" />
<rect x="894.1" y="154.2" width="19.5" height="2.2" fill="#fff" stroke="#222" stroke-width="0.5" />
<rect x="913.6" y="154.2" width="19.5" height="2.2" fill="#222" stroke="none" stroke-width="1" />
<rect x="933.1" y="154.2" width="19.5" height="2.2" fill="#fff" stroke="#222" stroke-width="0.5" />
<line x1="854.8" y1="157" x2="952.3" y2="157" stroke="#333" stroke-width="0.5" />
<text x="855.5" y="162.3" font-size="5" fill="#222" text-anchor="middle" >0</text>
<text x="874.6" y="162.3" font-size="5" fill="#222" text-anchor="middle" >1</text>
<text x="894.1" y="162.3" font-size="5" fill="#222" text-anchor="middle" >2</text>
<text x="913.6" y="162.3" font-size="5" fill="#222" text-anchor="middle" >3</text>
<text x="933.1" y="162.3" font-size="5" fill="#222" text-anchor="middle" >4</text>
<text x="952.3" y="162.3" font-size="5" fill="#222" text-anchor="middle" >5</text>
<rect x="827.7" y="189.9" width="155.8" height="371.3" fill="#fff" stroke="#888" stroke-width="0.8" rx="7"/>
<rect x="833" y="194.9" width="145" height="29.4" fill="none" stroke="#aaa" stroke-width="0.6" />
<text x="905" y="213.4" font-size="9" fill="#111" text-anchor="middle" font-weight="bold" textLength="116" lengthAdjust="spacingAndGlyphs" >Reconstruction of Villa Balassa</text>
<rect x="833" y="224.3" width="145" height="39.3" fill="none" stroke="#aaa" stroke-width="0.6" />
<text x="834.9" y="230.6" font-size="6.2" fill="#111" font-weight="bold" textLength="24" lengthAdjust="spacingAndGlyphs" >Address:</text>
<text x="836.8" y="240.6" font-size="6.2" fill="#222" textLength="48" lengthAdjust="spacingAndGlyphs" >Budapest, Hungary</text>
<rect x="833" y="267.3" width="145" height="77.5" fill="none" stroke="#aaa" stroke-width="0.6" />
<rect x="833" y="348.2" width="145" height="208.1" fill="none" stroke="#aaa" stroke-width="0.6" />
<line x1="833" y1="396.7" x2="978" y2="396.7" stroke="#aaa" stroke-width="0.6" />
<line x1="833" y1="445.4" x2="978" y2="445.4" stroke="#aaa" stroke-width="0.6" />
<line x1="833" y1="474.7" x2="978" y2="474.7" stroke="#aaa" stroke-width="0.6" />
<line x1="833" y1="523.7" x2="978" y2="523.7" stroke="#aaa" stroke-width="0.6" />
<line x1="871.3" y1="523.7" x2="871.3" y2="556.3" stroke="#aaa" stroke-width="0.6" />
<line x1="924.6" y1="523.7" x2="924.6" y2="556.3" stroke="#aaa" stroke-width="0.6" />
<text x="835" y="355" font-size="6.2" fill="#111" font-weight="bold" textLength="15" lengthAdjust="spacingAndGlyphs" >Client</text>
<text x="835" y="403.3" font-size="6.2" fill="#111" font-weight="bold" textLength="24" lengthAdjust="spacingAndGlyphs" >Architect</text>
<text x="835.2" y="451.4" font-size="6.2" fill="#111" font-weight="bold" textLength="40.7" lengthAdjust="spacingAndGlyphs" >CAD technician</text>
<text x="835.2" y="481.3" font-size="6.2" fill="#111" font-weight="bold" textLength="37.6" lengthAdjust="spacingAndGlyphs" >Drawing name</text>
<text x="905.45" y="505.1" font-size="11" fill="#111" text-anchor="middle" textLength="40" lengthAdjust="spacingAndGlyphs" >Basement</text>
<text x="835.2" y="529.9" font-size="6.2" fill="#111" font-weight="bold" textLength="14" lengthAdjust="spacingAndGlyphs" >Scale</text>
<text x="873.4" y="529.9" font-size="6.2" fill="#111" font-weight="bold" textLength="34.7" lengthAdjust="spacingAndGlyphs" >Date of issue</text>
<text x="926.3" y="529.9" font-size="6.2" fill="#111" font-weight="bold" textLength="28.9" lengthAdjust="spacingAndGlyphs" >Drawing ID</text>
<text x="852.3" y="544.3" font-size="6.2" fill="#222" text-anchor="middle" textLength="20.6" lengthAdjust="spacingAndGlyphs" >M 1:100</text>
<text x="948.5" y="546.8" font-size="13.5" fill="#111" text-anchor="middle" font-weight="bold" textLength="33.6" lengthAdjust="spacingAndGlyphs" >A-01.2</text>
<g transform="translate(833 266) scale(0.1377)" fill="none" stroke="#3a3a3a" stroke-width="4.5">
<path d="M100 345 L425 560 L985 335 L690 222 M100 345 L228 305"/>
<path d="M300 395 L255 430 L410 500 L600 420 M300 395 L410 440 L410 500 M520 345 L410 390"/>
<path d="M225 115 L225 340 L300 385 L300 135 Z"/>
<path d="M300 135 L345 125 L345 390 M345 125 L520 170 L520 330 M345 230 L520 260 M300 385 L345 395 L520 340"/>
<path d="M225 110 L380 95 L625 105 L625 125 L420 160 L300 135 L225 120 Z" fill="#fff" stroke-width="5"/>
<path d="M228 115 L380 101 L622 113 M300 130 L420 152 L622 118" stroke-width="7" stroke-dasharray="9 7"/>
<path d="M380 45 L560 45 L570 110 L440 125 L380 105 Z" fill="#fff"/>
<path d="M395 55 V105 M420 55 V115 M445 60 V120 M470 60 V120 M495 60 V118 M520 58 V115 M380 45 L440 60 L560 45 M440 60 V125"/>
<path d="M520 205 Q600 180 680 210 L680 390 Q640 410 600 400 Q560 390 520 370 Z" fill="#fff"/>
<path d="M520 205 Q590 245 680 215 M530 230 Q600 260 675 235"/>
<path d="M590 275 L670 262 L670 305 L590 315 Z M600 280 V310 M615 278 V310 M630 275 V308 M645 272 V306 M658 270 V305" stroke-width="6"/>
<path d="M635 350 L668 345 L668 385 L635 390 Z M650 350 V388"/>
<path d="M380 180 L470 190 L470 235 L380 228 Z M395 182 V230 M410 184 V232 M425 186 V233 M440 187 V234 M455 189 V235" stroke-width="5"/>
<path d="M380 280 L470 275 L470 330 L380 335 Z M395 280 V333 M410 279 V332 M425 278 V332 M440 277 V331 M455 276 V331" stroke-width="5"/>
<path d="M530 175 L610 150 L610 200 L530 215 Z M550 170 V212 M570 165 V208 M590 158 V204"/>
<path d="M240 160 L275 165 L275 205 L240 200 Z M255 330 L275 335 L275 370 L255 365 Z"/>
<path d="M320 330 L345 315 L390 380 L360 395 Z M328 340 L352 328 M336 352 L360 340 M344 364 L368 352 M352 376 L376 364" stroke-width="5"/>
<path d="M322 215 L330 210 L330 320" />
</g>
</g>
<rect x="197.6" y="13.4" width="789.5" height="552.8" fill="none" stroke="#555" stroke-width="1.3"/>
</svg>
<div class="credit">Offerto da Graphisoft BIMx</div>
<div class="btn" style="left:13px;top:12px"><svg width="36" height="36"><circle cx="10.6" cy="18" r="1.75" fill="#3a3a3a"/><circle cx="18" cy="18" r="1.75" fill="#3a3a3a"/><circle cx="25.4" cy="18" r="1.75" fill="#3a3a3a"/></svg></div>
<div class="btn" style="left:1135px;top:12px"><svg width="36" height="36"><path d="M19.2 16.4 L24.5 11.1 M16.7 19.2 L11.5 24.4" stroke="#333" stroke-width="2.1" fill="none"/><path d="M27 9 L21 9.3 L27 14.8 Z M9 27 L9 21.1 L14.9 27 Z" fill="#333"/></svg></div>
<div class="btn" style="left:13px;top:272px"><svg width="36" height="36" fill="none" stroke="#3a3a3a" stroke-width="1.85"><path d="M8 18 H30 M8 18 L17.5 8.7 M8 18 L17.5 27.3"/></svg></div>
<div class="btn" style="left:1135px;top:272px"><svg width="36" height="36" fill="none" stroke="#3a3a3a" stroke-width="1.85"><path d="M6 18 H28 M28 18 L18.5 8.7 M28 18 L18.5 27.3"/></svg></div>
<div class="btn" style="left:1038px;top:532px"><svg width="36" height="36" fill="none" stroke="#333" stroke-width="1.8"><g transform="rotate(-45 18.4 18.3)"><rect x="6.7" y="14.6" width="23.4" height="7.4" rx="0.8"/><path d="M12.4 14.6 V17.6 M16.4 14.6 V17.6 M20.4 14.6 V17.6 M24.4 14.6 V17.6" stroke-width="1.6"/></g></svg></div>
<div class="btn" style="left:1084px;top:532px;background:#0069d0"><svg width="36" height="36"><path d="M7.1 14.9 L13.1 11.6 L24.2 8 L29.5 15.6 L29.9 24.2 L18.6 28.9 L7.1 25.4 Z" fill="#f0f0f0"/><path d="M13 11.8 L18.6 18.9 L29.6 15.8 M18.6 18.9 L18.6 29.5" fill="none" stroke="#0069d0" stroke-width="1.3"/></svg></div>
<div class="btn" style="left:1130px;top:532px"><svg width="36" height="36" fill="none" stroke="#333" stroke-width="1.8"><path d="M13.9 21.7 H9.3 Q7.7 21.7 7.7 20.1 V10.3 Q7.7 8.7 9.3 8.7 H26.6 Q28.2 8.7 28.2 10.3 V14.6"/><circle cx="21.7" cy="20.1" r="4.6"/><path d="M25.1 23.7 L29.3 28"/></svg></div>
<div class="tip">Mostra in 3D</div>
<div class="red" style="left:1040px;top:479px;width:125px;height:47px"></div>
<div class="red" style="left:1079px;top:527px;width:46px;height:46px"></div>
<div class="label">A-01.2 Basement</div>
</div></body></html>
